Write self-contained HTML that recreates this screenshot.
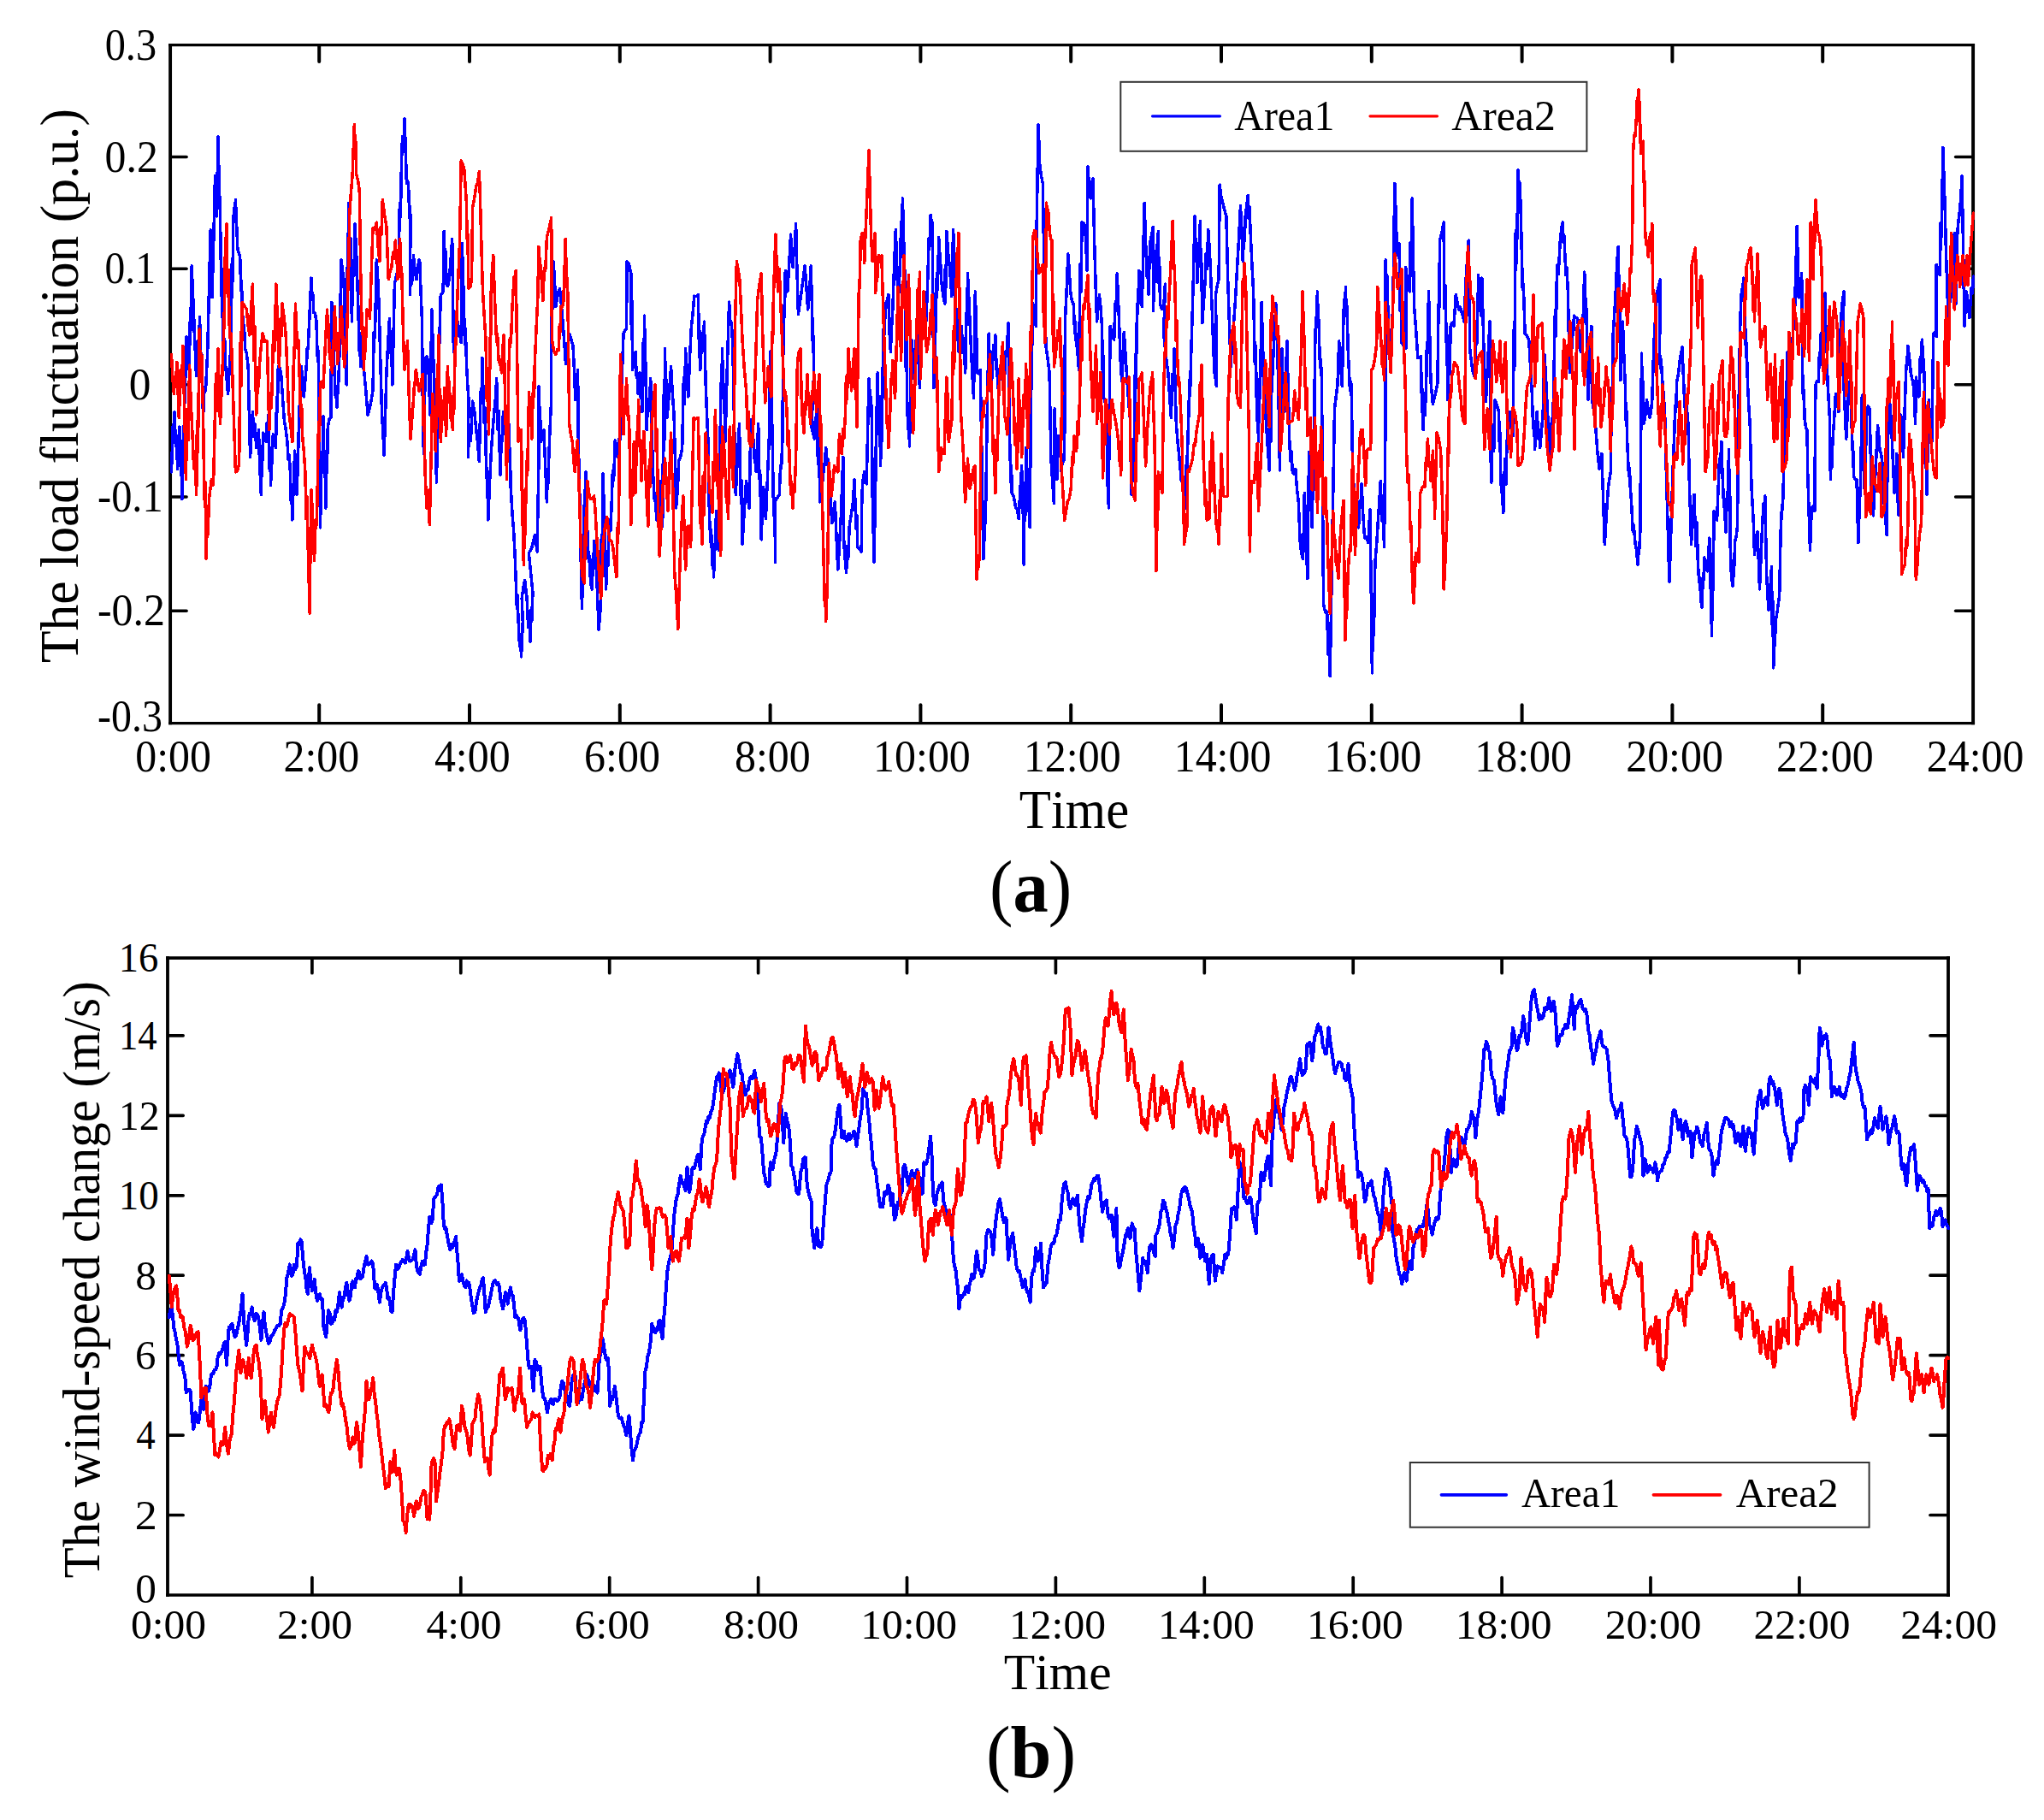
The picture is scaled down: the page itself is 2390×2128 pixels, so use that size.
<!DOCTYPE html>
<html lang="en"><head><meta charset="utf-8"><title>Load fluctuation and wind-speed change</title>
<style>
html,body{margin:0;padding:0;background:#fff;}
body{width:2390px;height:2128px;overflow:hidden;}
svg{display:block;}
text{font-family:"Liberation Serif", "Times New Roman", serif;fill:#000;font-kerning:none;}
</style></head><body>
<svg width="2390" height="2128" viewBox="0 0 2390 2128">
<rect x="0" y="0" width="2390" height="2128" fill="#fff"/>
<g stroke="#000"><line x1="197.15" y1="52.6" x2="2309.05" y2="52.6" stroke-width="3.2"/><line x1="197.15" y1="845.6" x2="2309.05" y2="845.6" stroke-width="3.2"/><line x1="199.1" y1="51" x2="199.1" y2="847.2" stroke-width="3.9"/><line x1="2307.1" y1="51" x2="2307.1" y2="847.2" stroke-width="3.9"/></g>
<g stroke="#000" stroke-width="4.0" stroke-linecap="round">
<line x1="373.2" y1="844.6" x2="373.2" y2="824.2"/><line x1="373.2" y1="53.6" x2="373.2" y2="72.1"/>
<line x1="549" y1="844.6" x2="549" y2="824.2"/><line x1="549" y1="53.6" x2="549" y2="72.1"/>
<line x1="724.8" y1="844.6" x2="724.8" y2="824.2"/><line x1="724.8" y1="53.6" x2="724.8" y2="72.1"/>
<line x1="900.6" y1="844.6" x2="900.6" y2="824.2"/><line x1="900.6" y1="53.6" x2="900.6" y2="72.1"/>
<line x1="1076.4" y1="844.6" x2="1076.4" y2="824.2"/><line x1="1076.4" y1="53.6" x2="1076.4" y2="72.1"/>
<line x1="1252.2" y1="844.6" x2="1252.2" y2="824.2"/><line x1="1252.2" y1="53.6" x2="1252.2" y2="72.1"/>
<line x1="1428" y1="844.6" x2="1428" y2="824.2"/><line x1="1428" y1="53.6" x2="1428" y2="72.1"/>
<line x1="1603.8" y1="844.6" x2="1603.8" y2="824.2"/><line x1="1603.8" y1="53.6" x2="1603.8" y2="72.1"/>
<line x1="1779.6" y1="844.6" x2="1779.6" y2="824.2"/><line x1="1779.6" y1="53.6" x2="1779.6" y2="72.1"/>
<line x1="1955.4" y1="844.6" x2="1955.4" y2="824.2"/><line x1="1955.4" y1="53.6" x2="1955.4" y2="72.1"/>
<line x1="2131.2" y1="844.6" x2="2131.2" y2="824.2"/><line x1="2131.2" y1="53.6" x2="2131.2" y2="72.1"/>
</g>
<g stroke="#000" stroke-width="3.5" stroke-linecap="round">
<line x1="200.1" y1="183.5" x2="218.1" y2="183.5"/><line x1="2306.1" y1="183.5" x2="2286.6" y2="183.5"/>
<line x1="200.1" y1="314.2" x2="218.1" y2="314.2"/><line x1="2306.1" y1="314.2" x2="2286.6" y2="314.2"/>
<line x1="200.1" y1="449.8" x2="218.1" y2="449.8"/><line x1="2306.1" y1="449.8" x2="2286.6" y2="449.8"/>
<line x1="200.1" y1="581" x2="218.1" y2="581"/><line x1="2306.1" y1="581" x2="2286.6" y2="581"/>
<line x1="200.1" y1="714.2" x2="218.1" y2="714.2"/><line x1="2306.1" y1="714.2" x2="2286.6" y2="714.2"/>
</g>
<clipPath id="ca"><rect x="197.4" y="52.6" width="2111.4" height="793"/></clipPath>
<g clip-path="url(#ca)">
<polyline points="200.5,551.8 202.3,497 203.3,517 204.1,481.5 205.4,521.9 206.4,509.7 207.6,548.3 208.8,526.6 210,499.1 210.6,541.6 211.4,515.6 212.8,583.4 214,528.3 214.7,531.9 215.3,495.6 216.6,429.4 217.4,440.9 218.1,393.6 219.5,417 220.9,432.3 221.6,377 222.5,402.9 224.1,311 225.5,342.3 226.9,376 227.8,408.4 228.5,405.3 229.4,439.3 230.9,398.7 232.1,412.3 233.6,370.8 234.7,426.8 235.8,413.9 237.5,488.5 239.1,452.6 240.5,456.2 242.7,411.2 244.4,340.6 246.2,268.8 247.1,305.2 248,347.9 249.8,280.3 251.5,205.6 252.1,233.7 252.6,220.8 253.3,253 255,159.9 256.2,210.8 257.5,253 258.9,346.2 259.7,314.9 260.3,376 261.7,413.3 262.7,396.3 263.8,428.8 265.2,444.7 266.6,460.4 268.4,427.6 270.1,404.2 271.3,305 272,329.3 272.6,263.6 273.7,243.7 274.5,251.7 275.4,233.7 276.6,261.4 277.9,291.7 279.3,295.5 280.7,300.5 281.8,339.5 282.5,328.2 283.1,355 284.4,383.3 285.4,380.6 286.7,407.7 288.4,413.7 290.2,428.8 291.4,486.3 292.6,534.2 294,506.8 295.4,481.5 297,510.7 298.2,495.8 299.7,523.7 301.1,515.9 302.5,502.6 303.9,555.4 304.7,546.7 305.3,578.2 306.6,521.5 307.3,537.8 307.8,506.1 309.6,510.9 311.3,516.6 312.2,494.3 312.9,505.3 313.7,485 315,548.2 315.8,523.2 316.5,567.6 317.9,540.2 319.3,507.9 320.9,518.9 322.5,523.7 323.6,464.4 324.4,481.2 325.3,428.8 327.1,429.6 328.8,439.3 330.6,466.3 332.4,492 334.1,501.3 335.9,516.6 337.2,537.3 338.2,531.8 339.4,551.8 340.3,588.2 341,574.8 341.8,608 343.2,567.2 344.7,527.2 345.4,551.1 346,546.2 347.1,578.2 348.5,533.5 349.9,481.5 351.1,458.1 352.4,428.8 353.8,443.9 355.2,463.9 356.9,444.5 358.7,421.7 359.3,406.2 360.1,408.1 361.5,379.6 362.8,349.8 364,325.1 365.2,350.7 366,344.6 366.8,365.5 368.4,366.4 370,376 371.1,416.2 371.9,409.6 372.8,446.3 374.5,616.8 376.1,528.2 377.1,552.3 378,486.8 379.1,543.6 379.9,538.5 380.9,594 381.7,543 382.4,552.5 383.3,499.1 385.1,489.9 386.8,488.5 387.9,353.2 389.5,394.6 391.1,435.8 392.3,464.2 393,452 393.9,476.2 394.5,455 395.3,459.7 396.7,421.7 397.9,359.5 399.1,304 400.6,317.4 402,326.8 403.6,388.8 405.1,449.9 406.6,273.5 407.4,336.4 407.9,237.2 408.9,312.4 409.9,278.1 411.4,376 412.8,306 413.9,322.3 415,261.8 416.8,300.4 418.5,347.9 420.4,415.8 421.4,389.9 422,428.8 423.8,428.6 425.5,432.3 427.8,456.8 430.1,485 433.1,473.4 436,456.9 437.2,388.1 438.4,394.7 440.3,304 441.7,324.9 443.1,355 444.9,424.6 446.6,485 447.9,505.5 449.1,532.5 450.5,488.9 451.9,435.8 453.6,404.2 455.4,372.5 456.5,412.3 457.5,404.1 458.9,449.9 460.1,390.3 461.4,332.1 463.6,321.1 465.9,316.3 467.4,237.5 468.4,254.1 469.4,193.3 470.5,159.9 471.5,177.3 473,138.8 474.2,171.8 475.4,214.4 476.4,211.4 477.5,214.4 478.9,255.3 479.6,241 480,263.6 479.3,344.4 480.5,319.6 481.6,331.3 483.5,298.7 485.2,317.1 487,326.8 488.4,313.8 489.8,304 490.7,304 492.1,341.9 493.5,376 494.5,490.9 495,473.1 495.3,530.7 496.5,470.3 497.7,418.2 499.1,416.6 500.5,421.7 501.8,450.5 503,485 503.9,424.5 504.8,362 506.2,402.8 507.6,446.3 508.4,517.1 509.2,479.7 510.4,564.1 511.6,509.7 512.8,446.3 514,391.7 515.3,344.4 516.7,343.2 518.1,340.9 519.2,270.6 519.9,295 520.7,291 522.3,333.9 523.7,334 525.1,326.8 526.9,306.4 528.7,279.4 530.4,411.2 532.3,386.5 533.6,396.8 535,376 537.1,387.1 539.2,400.7 540.3,284.7 541.5,324.1 542.7,369 543.5,402.5 544.3,384.2 545.5,425.3 546.8,450.6 548,467.4 547.3,534.2 548.9,496.3 550.4,515.3 552.6,469.2 554.7,481 556.8,502.6 558.5,517 560.3,539.5 562.1,457.5 563.1,463.9 563.8,418.2 566.1,494.3 567.3,477.1 568,516.6 568.7,558.4 569.5,547.7 570.8,608 572.6,563.6 574.4,527.2 576.1,503.1 577.9,481.5 579.3,466.2 580.7,442.8 581.9,501.9 583.1,480.2 584.9,555.3 586.4,511.4 587.4,515.3 588.4,481.5 590.3,507.9 591.3,503.1 591.9,516.6 593.3,505.3 594.7,492 595.5,529.1 596.2,524.5 597.2,569.4 599,600.4 600.7,622.1 602,646.3 603.2,678.3 604.4,711.8 605.1,695.6 606,724 607.5,755.1 608.5,744 609.5,768 611.3,727.5 610.2,699.4 612,686.4 613.7,678.3 614.6,692.5 615.3,689.2 616.5,706.4 617.6,733.5 618.6,717.9 620.1,750.4 621.3,710.3 622.1,724.6 622.9,692.4 618.3,646.7 621.8,640.6 625.3,625.6 626.7,634.2 628.1,644.9 629.9,541.2 629.9,451.6 630.7,485.7 631.4,476.6 632.4,516.6 634.1,513.1 635.9,502.6 637.6,542.8 639.4,586.9 640.3,553 641,564.9 641.8,534.2 643.2,498.3 644.7,467.4 644.7,397.1 645.4,355.3 646.1,361.1 647.1,305.7 648.5,327.8 649.9,358.5 652.2,343.7 654.5,337.4 656.2,354.6 658,376 659.8,400.6 661.5,425.3 663.6,404.2 665.7,390.1 667.9,397.2 670,404.2 671.4,431.6 672.8,467.4 674.2,446.6 675.6,432.3 676.3,516.6 678,586.9 679.2,654.1 680.5,711.7 681.5,665.1 682.6,622.1 683.6,573.8 684.3,597.3 685.1,551.8 686.8,622.1 688.2,653.9 689,650 689.6,667.8 690.9,682.5 692.1,688.9 692.9,654.3 693.6,672.8 694.6,632.6 696,652.5 697.4,664.3 698.8,702.8 700.2,736.3 701.5,718.1 702.7,706.4 703.3,625.5 704,666.5 705.1,553.6 706.9,618.8 708.6,688.9 710.1,645.3 710.9,661.1 711.4,636.2 712.8,607.3 713.8,620.4 715,594 716.4,550.3 717.6,562 719.2,514.9 720.6,522.1 722,534.2 723.5,513.6 724.5,519 725.5,502.6 727.2,442 729,390.1 730.8,386 732.5,384.8 733.2,305.7 735.5,309.1 737.8,319.8 738.3,385.4 738.8,351.1 739.6,432.3 741.4,420.7 743.1,411.2 744.3,441.3 745,435.7 745.9,460.4 747.1,443.2 748.3,435.8 749.2,465 749.9,453.7 750.8,481.5 752,400.8 752.8,431.6 753.6,369 754.5,450.5 755.2,424.7 756.1,502.6 757.7,467.1 759,480.2 760.7,442.8 762.1,501.5 763.5,551.8 765.3,585.2 766.5,582.1 767.7,608 769,576.9 770,591.6 771.2,562.3 772.8,602.9 773.8,585.9 774.7,615.1 775.9,462 776.7,526.6 777.5,407.7 778.6,466.1 779.3,443.9 780,488.5 782.3,462.2 784.6,428.8 786.4,461.5 788.1,485 789.4,536.3 790.7,594 791.5,565.3 792.3,577.4 793.5,539.5 795.6,534.2 797.7,523.7 799.4,441 800.5,472.2 801.6,407.7 802.8,439.5 803.7,434.3 804.8,463.9 806.5,418.9 808.3,383.1 810,367.7 811.8,346.2 814.1,346.6 816.4,344.4 817.6,417.6 818.3,387.1 818.8,432.3 821,389.2 822.3,406.6 823.4,376 825.1,446.3 826.5,483.5 828,516.6 829.4,601 830.9,633.5 831.6,619.9 832.2,639.7 833.4,664.6 834,658.4 834.6,674.8 835.5,636.6 836.3,642.8 837.5,597.5 838.9,624.9 840.3,643.2 842,516.6 843,447.4 843.7,466 844.5,407.7 845.6,462.5 846.5,449.5 848,516.6 850.3,429.9 852.6,353.2 854.1,379.6 855.3,377.2 856.8,404.2 858.5,492.3 860.3,578.2 862.4,534 864.5,495.6 865.9,579.1 866.8,561.1 868,636.2 870.3,596.8 872.6,562.3 874.4,581.1 876.1,594 877.9,490.3 879.6,508.2 881.4,516.6 882.4,540.1 883.2,529.1 884.2,551.8 885.5,524.4 886.7,495.6 887.7,560.1 888.7,550 890.2,630.9 891.4,596.3 892.6,569.4 894,588.3 895.4,606.3 897.5,557.1 899.7,502.6 900.7,411.2 902,460.3 903.2,516.6 904.6,602.4 905.6,582.8 906.7,657.2 906,586.9 908.6,582.6 911.3,578.2 912.6,544.6 913.6,547.1 914.8,516.6 915.8,411.2 916.7,357.5 917.4,370.5 918.3,316.3 919.5,327.6 920.8,340.9 922.7,309.3 924.6,274.1 925.7,299.1 926.4,292.9 927.1,312.8 927.8,292.1 928.8,298.7 930.6,261.8 932,318.4 933.4,367.3 935.5,352.5 937.6,337.4 939.4,323.8 941.1,311 942.9,335.6 944.7,362 946.5,341.4 948.2,311 949.9,376 950.4,407 950.9,392.8 951.7,435.8 948.9,499.1 950.6,506.4 952.4,513.1 953,492.3 953.7,500.4 955.2,463.9 956.4,542.6 957.4,503.8 958.7,586.9 960.8,571.7 962.9,551.8 964.3,540.2 965.7,523.7 967.4,544 968.4,537.1 969.3,551.8 971,582.9 972.8,611.5 974.5,598.3 976.3,586.9 978,627.8 979.8,666 981.5,638.1 983.3,604.5 984.5,572 985.8,534.2 986.8,636.2 988.2,653.9 989.6,669.5 990.7,638.7 991.7,653.2 993.2,615.1 995.3,601.4 997.4,586.9 999.1,560.6 1000.9,618.3 1001.9,602.8 1002.7,639.7 1005,642 1007.2,644.9 1007.9,576.4 1009.3,559.6 1010.7,551.8 1012,559 1013.2,565.9 1014.6,503.6 1016,442.8 1017.4,465.8 1018.3,464 1019.2,481.5 1020.7,622.3 1021.5,576.5 1022,657.2 1023.7,569.4 1024.8,476.2 1025.5,507.4 1026.2,435.8 1027.2,498.4 1028.1,463.2 1029.7,544.8 1030.3,475.4 1031.1,516.3 1032.5,411.2 1033.4,379.1 1034.2,390.6 1035.3,355 1037.1,352.1 1038.9,344.4 1039.9,391.3 1040.6,373.4 1041.3,411.2 1042.5,384.3 1043.8,362 1045.5,312.7 1047.3,268.8 1048.7,308.6 1050.1,355 1051.5,330.5 1052.9,298.7 1053.6,259.2 1054.3,282.4 1055.4,231.9 1056.6,277.5 1057.8,316.3 1059.3,433.3 1060.1,397.2 1060.7,467.4 1061.7,501.9 1062.5,486.4 1063.5,521.9 1064.7,456.4 1065.9,397.1 1067.7,418.4 1069.4,446.3 1070.8,408.8 1072.2,372.5 1073.8,415.2 1075.4,453.4 1076.8,412.3 1078.2,376 1079.6,383.3 1081,390.1 1081.9,359.8 1082.9,375.4 1084.6,332.1 1086.2,278.7 1087.2,288.1 1088.1,251.3 1089,257.9 1090,260.1 1091.8,453.4 1093,412.8 1094.2,376 1095.4,319.2 1096.4,338.6 1097.7,277.6 1098.4,299 1099.2,296.1 1100.5,326.8 1102.7,344.8 1104.8,355 1105.2,314.1 1105.8,336.5 1106.9,270.6 1108.7,296.3 1110.4,312.8 1111.6,327.9 1112.8,346.2 1114.6,268.8 1116,308.1 1117.4,355 1119.2,379.1 1120.9,411.2 1122.2,393.4 1123.2,398.3 1124.4,381.3 1125.6,412.5 1126.8,396 1128.7,435.8 1129.8,366.6 1130.6,379.1 1131.5,319.8 1133.2,356.8 1135,397.1 1136.8,435.5 1138.5,465.7 1140.3,340.9 1141.5,383.8 1142.7,435.8 1144.5,437 1146.2,432.3 1148,534.2 1149.8,653.7 1151.2,623.8 1152.6,597.5 1154.3,481.5 1156.1,390.1 1157.5,430 1158.5,411.2 1159.6,446.3 1161.7,403.4 1162.9,418.7 1163.8,391.9 1165.3,433.9 1166,431.1 1166.6,453.4 1168.3,442.8 1170.1,439.3 1172.2,444.4 1174.4,446.3 1175.9,411.1 1177.2,416.7 1178.9,377.8 1180.7,516.6 1181.9,564.4 1182.6,544.6 1183.1,576.4 1185.4,580.6 1187.7,594 1189.5,595.8 1191.2,606.3 1193,571 1194.7,544.8 1195.3,592.7 1196,584.8 1197.2,660.1 1198.3,564.3 1199,602.3 1199.7,523.7 1202,573.7 1204.2,616.8 1205.3,481.5 1206.5,417.1 1207.8,355 1209.5,372.8 1211.3,381.3 1212.3,253 1214.1,145.8 1215.8,193.3 1217.5,205.3 1219.3,214.4 1220.8,305.7 1221.3,358 1221.9,324.6 1222.9,404.2 1225,418.5 1227.1,435.8 1228.8,534.2 1230.6,562.1 1232.4,588.7 1233.1,478 1233.7,514.2 1234.5,501.5 1235.9,560.6 1237.6,509.6 1238.5,533.7 1239.5,520.1 1241.1,551.8 1242.7,532 1243.7,539.5 1244.7,523.7 1245.4,376 1247.2,338.7 1248.9,297 1250.3,316.5 1251.7,340.9 1253.5,352.7 1255.2,355 1256.7,389.4 1257.4,376.3 1258,397.1 1259.8,410.2 1261.5,432.3 1263.2,308.4 1264.2,341.1 1265,260.1 1266.8,260.6 1268.6,263.6 1269.8,285.4 1271,316.3 1272.1,195 1273.2,214.8 1274.1,211.8 1275.2,231.9 1276.6,219.5 1278,209.1 1279.8,288.2 1281.2,335.9 1282.6,376 1283.7,358.4 1284.5,360.5 1285.4,344.4 1287,359.6 1288.6,383.1 1289.2,432.5 1289.7,410.4 1290.4,463.9 1292.2,470.8 1293.9,481.5 1295,567.8 1295.7,534.3 1296.3,594 1298.1,381.3 1300.4,392.8 1302.7,397.1 1303.9,354.7 1304.9,363.9 1306.2,319.8 1308,362.1 1309.7,407.7 1310.8,438.1 1311.5,424.7 1312.1,446.3 1313.2,413.3 1314.3,388.3 1316,415 1317.8,442.8 1319.5,467.8 1321.3,488.5 1323,578.2 1324.6,549.4 1326.2,516.6 1327.6,414.5 1328.4,453.2 1329,390.1 1329.7,355.1 1330.5,366.8 1331.8,316.3 1332.6,335.3 1333.6,328.9 1335.3,358.5 1336.8,293.3 1338.2,237.2 1339.2,271.2 1340.3,302.2 1341.2,324.2 1341.9,317.7 1343.1,344.4 1344.1,300 1344.7,312.6 1345.2,281.1 1346.8,273.5 1348.3,265.3 1348.3,363.7 1350.2,321.2 1351.2,329.6 1351.9,305.7 1352.4,286.7 1353.1,299.1 1354.3,270.6 1355.4,340.5 1356,312 1356.4,355 1358.6,361.4 1360.7,358.5 1362.4,332.1 1360.7,390.1 1363.3,417.2 1365.9,435.8 1367.7,465.2 1369.4,488.5 1370.8,437.2 1371.8,455.3 1373,407.7 1374.2,455.3 1375.4,497.3 1377.2,518.2 1378.9,534.2 1381.3,562.1 1382.6,553.4 1383.5,569.4 1384.8,580.7 1386,594 1387.5,533 1388.3,549.3 1388.8,516.6 1390,481.5 1390.7,444.8 1391.5,463.1 1392.8,411.2 1394,373.1 1395.3,326.8 1397,253 1398,301 1398.7,279.9 1399.8,330.4 1400.6,295.6 1401.7,311.1 1403.4,258.3 1404,310.8 1404.6,296 1405.8,377.8 1407.5,352.6 1409.3,326.8 1410.1,296.5 1411.1,314.7 1412.8,268.8 1414,287.5 1415.3,312.8 1417,355.5 1418.8,407.7 1420.5,441.5 1421.5,429.8 1422.3,451.6 1421.6,344.4 1423.3,333.4 1425.1,326.8 1426.2,216.1 1427.8,229.7 1429.4,235.4 1431.7,245.2 1433.9,253 1435.7,326.8 1437.5,381.7 1439.2,428.8 1440.7,392.7 1441.7,404 1442.7,376 1444.5,350.9 1446.2,319.8 1448.3,283.4 1450.5,240.7 1451.9,270.8 1453.3,305.7 1454.6,266.5 1455.4,281.6 1456.1,253 1457.7,240.8 1459.2,228.4 1460.2,255.5 1461,241.9 1462.1,270.6 1463.8,306.6 1465.6,340.9 1467.3,425.7 1468.3,404.1 1469.1,456.9 1469.8,491.3 1470.5,475.7 1471.5,516.6 1472.4,443 1473.4,465.4 1475.1,353.2 1476.5,402.2 1477.9,446.3 1479.3,473.1 1480.7,499.1 1482.5,525.1 1484.2,550 1485.2,489 1485.9,516.1 1486.7,460.4 1489.3,406.8 1491.9,355 1493.3,398.7 1494.7,446.3 1496.5,550 1497.4,460.2 1498.1,492.6 1499,407.7 1500.5,461.4 1501.3,454.6 1501.8,481.5 1503.3,445.1 1504.9,398.9 1506.3,458.4 1507.8,516.6 1509,539.5 1510,527.5 1511.3,551.8 1513,554 1514.8,548.3 1516.5,571.6 1518.3,586.9 1520.1,632.6 1521.8,647.4 1523.6,653.7 1525.3,576.4 1527,625.3 1528.8,676.6 1530.6,528.9 1532.3,590.3 1533.3,576.3 1534.1,616.8 1535.5,549 1536.9,481.5 1537.6,407.7 1538.6,371.7 1539.4,376.9 1540.4,340.9 1541.3,376.6 1542,373.4 1542.9,411.2 1543.6,429.8 1544.3,419.9 1545.4,442.8 1546.5,572.5 1547.5,706.4 1549.6,715.8 1551.7,715.2 1553,765 1554,744 1555.2,790.8 1556.6,705.8 1558,622.1 1559.2,549.9 1560.5,478 1562.2,463.9 1564,449.9 1565.7,398.9 1567.5,427.4 1569.3,451.6 1571,369 1571.6,350.3 1572.3,362 1573.5,335.6 1574.1,366.6 1574.9,357.4 1576.3,411.2 1578.5,456.4 1579.7,446.4 1580.5,470.9 1581.6,551.8 1583.3,570.9 1585.1,583.4 1586.5,607.9 1587.5,595.9 1588.6,616.8 1590,586.1 1590.9,593.8 1592.1,565.9 1593.8,602.2 1595.6,629.1 1597.7,627.8 1599.8,634.4 1600.9,614.2 1602,595.7 1603.2,687.5 1604.4,786.9 1605.4,717.6 1606.4,742.7 1607.9,657.2 1609.7,636.2 1611.4,608 1612.8,586.9 1614.3,562.3 1615.7,609 1616.9,589.3 1618.5,639.7 1620.2,474.5 1620.2,304 1621.1,338.8 1621.8,322 1622.7,355 1624.4,409.6 1625.4,403.6 1626.2,435.8 1627.6,368.5 1628.4,378.4 1629,340.9 1630.8,214.4 1631.6,269 1632.3,241.7 1633.2,298.7 1634.6,296.6 1636,284.7 1637.1,363.1 1637.9,325.2 1638.9,400.7 1641.3,404.6 1643.8,407.7 1643.8,312.8 1645.9,331.9 1647.2,327.7 1648.3,340.9 1648.9,284.1 1649.7,322.9 1651.2,231.9 1652.4,299.5 1653.6,358.5 1655.7,386 1657.8,418.2 1659.6,417.8 1661.4,416.5 1662.7,482 1663.5,455.3 1664.2,502.6 1665.2,470.6 1666.2,485.5 1667.7,446.3 1668.4,400.3 1669.2,411.1 1670.5,340.9 1671.8,394.6 1673,446.3 1674.2,459.8 1675.4,472.7 1678.2,461.5 1681,448.1 1681.9,356.3 1682.6,377.9 1683.5,281.1 1685.8,272.6 1688.1,260.1 1688.8,360.2 1690,333.9 1690.8,399.8 1691.6,378.8 1692.8,467.4 1693.9,416.9 1694.9,437.4 1696.3,379.6 1698,377.3 1699.8,381.3 1701,364.8 1702.3,344.4 1704,353.5 1705.8,362 1707.5,359.3 1709.3,365.5 1710.5,369 1711.8,376 1713.2,347.6 1714.6,316.3 1715.8,302.6 1717.1,281.1 1718.8,411.2 1720.2,419.9 1721.6,432.3 1723.3,437.5 1725.1,442.8 1726,391 1727,401.3 1728.7,321.6 1729.3,344.2 1730.1,334.1 1731.5,369 1732.9,325.1 1734.3,382.8 1735.7,439.3 1737.5,469.2 1739.8,419.9 1742,376 1742.7,516.6 1743.8,564.1 1745.5,496.4 1746.7,527.6 1748,467.4 1750.3,473.7 1752.6,481.5 1753.1,516.6 1753.8,505 1755,565.9 1756.4,578.4 1757.8,599.2 1759.7,536.8 1760.9,566.1 1762.1,516.6 1763.5,493.7 1764.5,500.9 1765.6,481.5 1766.7,495.5 1767.7,493.1 1769.1,509.6 1770.2,385 1770.9,428.5 1771.5,340.9 1772.3,269.3 1773.3,308 1775.1,198.5 1776,217.5 1776.8,212.8 1777.9,235.4 1779.6,305.7 1780.3,338.9 1781.3,331.8 1783.1,390.1 1785.4,392.6 1787.7,397.1 1789.5,428.4 1791.2,456.9 1792.7,500.9 1793.7,492.1 1794.7,525.4 1795.5,498 1796.2,513.1 1797.2,481.5 1798.9,512.9 1799.9,502.5 1800.7,523.7 1802.5,503.7 1804.2,481.5 1806,414.7 1807.8,447.2 1809.5,481.5 1811.2,512.6 1813,541.2 1814.4,489.2 1815.4,506.3 1816.5,460.4 1818.4,362.3 1819.4,393 1820.1,333.9 1821,309.6 1822.2,320.3 1824.3,281.1 1825.7,267.4 1827.1,260.1 1828.1,283.2 1828.9,275 1829.9,298.7 1830.9,321.5 1831.9,312.6 1833.4,340.9 1834.3,390 1835,383.1 1835.9,435.8 1837.6,411.2 1838.8,382.7 1839.6,391.7 1840.4,369 1842.6,371.2 1844.7,372.5 1846.5,394.1 1848.2,411.2 1849.6,388.9 1851,376 1852.7,318 1853.8,354.2 1854.5,349 1855.2,376 1857,467.4 1858.9,420.8 1860.8,381.3 1861.5,467.4 1863.6,480.4 1865.7,499.1 1867.8,527.2 1870,548.3 1871.4,537.9 1872.8,530.7 1874.5,580 1876.3,636.2 1878.4,601.6 1880.5,569.4 1881.9,560 1883.3,551.8 1884.4,453.7 1885.2,473.9 1886.1,391.9 1887.8,365.9 1889.6,333.9 1890.8,306.1 1892.1,288.2 1893,332.8 1893.9,369 1894.9,444.6 1896.2,409.1 1897.4,376 1898.8,415 1900.2,446.3 1901.4,497.5 1902.1,481.2 1902.7,516.6 1904.5,556.3 1905.5,547.3 1906.2,569.4 1907.4,584.2 1908.6,608 1909.3,621.7 1910.3,614.2 1912.1,636.2 1913.5,643.2 1915,660.1 1915.7,644.1 1916.5,647.3 1917.8,622.1 1919.5,413 1920.3,456.6 1921,446.2 1922,495.6 1923.8,485.6 1925.5,467.4 1927.2,479.5 1929,488.5 1930.4,481 1931.8,467.4 1933,428 1934.3,393.6 1936,364.6 1937.8,340.9 1939.5,334.5 1941.3,326.8 1940.6,411.2 1941.4,430.1 1942.3,420 1943.8,446.3 1945.2,462 1946.6,481.5 1948.3,551.8 1950.1,614.4 1951.9,680.1 1953.1,647.3 1954.3,604.5 1956,550.9 1957.8,506.1 1958.8,473.9 1959.6,481.9 1960.7,446.3 1962.5,437.2 1964.2,421.7 1965.6,413.2 1967,405.9 1968.2,436.2 1969.4,463.9 1970.4,479.3 1971.7,471.3 1974,495.6 1975.4,569.4 1976.5,599.5 1977.5,636.2 1979.2,607.1 1981,578.2 1982.9,638.6 1984.1,610.8 1985.3,657.2 1986.7,680.5 1987.5,675.4 1988.1,688.9 1989,702.8 1990,710 1991.3,673.6 1992,677.8 1992.8,652 1994.5,658.3 1996.3,667.8 1997.5,650 1998.8,629.1 2000.2,685.9 2001.6,743.4 2002.5,647.7 2003.2,689.6 2004.1,597.5 2005.8,605 2007.6,608 2009.3,565.9 2010.5,536.3 2011.5,546.8 2012.8,516.6 2014,554.3 2015.3,583.4 2016.7,599.2 2018.1,622.1 2018.9,583.2 2019.9,587.9 2021.6,525.4 2022.1,597.4 2022.6,559.9 2023.4,657.2 2024.7,674.3 2025.9,685.4 2026.6,655.3 2027.4,673.8 2028.7,632.6 2030.1,627.1 2031.5,615.1 2032.9,481.5 2034,420.4 2035,369 2036.5,338.3 2037.5,350.4 2038.5,325.1 2039.8,358 2041,390.1 2041.5,417.7 2042.2,401 2043.4,446.3 2044.8,475 2046.2,495.6 2048,569.4 2049.2,590.7 2050.5,615.1 2051.5,648.5 2053.1,627.9 2054.1,636.8 2055,622.1 2056.2,652.3 2057.5,688.9 2058.9,655.6 2060.3,622.1 2062,588.9 2063,603.2 2063.8,579.9 2065.6,671.3 2066.8,694.4 2068,713.5 2069.8,689.5 2071.5,662.5 2072.1,730.2 2072.7,695.9 2073.7,781 2074.7,746.4 2075.4,755.1 2076.1,727.5 2078.4,713.1 2080.7,695.9 2082.1,622.1 2083.6,590.8 2084.4,595.8 2084.9,579.9 2086.4,519.8 2087.2,531.1 2087.7,499.1 2088.6,446.3 2089.3,466.6 2090.2,411.2 2092.8,414.3 2095.4,407.7 2097.2,379.5 2099,355 2099.7,300.8 2100.3,319 2101.1,264.3 2101.6,304.6 2102.2,290.7 2103.2,347.9 2104.1,332.1 2105.1,340.6 2106.7,319.8 2107.8,442.8 2108.4,466.7 2109.1,456.2 2110.2,490.3 2111.6,499.9 2113,502.6 2113.7,551.8 2115.1,598.7 2116.5,643.2 2117.4,617 2118.3,594 2120.1,592.2 2121.8,597.5 2122.9,449.9 2124.7,445.7 2126.4,446.3 2127.1,417.3 2127.8,427.6 2128.8,391.9 2130.6,387.5 2132.4,390.1 2134.1,342.7 2134.9,392.4 2135.7,381.8 2136.9,446.3 2138.2,467.8 2139.4,488.5 2140.4,560.6 2141.3,532 2142,546 2142.9,516.6 2144.7,489 2146.4,460.4 2148.2,469.9 2149.9,481.5 2150.9,419.1 2151.6,425.9 2152.4,376 2154.2,354 2155.9,340.9 2155.2,432.3 2156.9,471.5 2158.7,513.1 2160.4,480.6 2162.2,446.3 2163.3,469.9 2164.1,467.3 2165,488.5 2165.8,525.5 2166.5,516.5 2167.5,557.1 2169.2,560.5 2171,560.6 2171.9,596.1 2172.8,634.4 2174.2,594.8 2175.6,560.6 2177.3,462.2 2178.6,515.1 2179.8,571.1 2180.4,522.4 2181.2,550.7 2182.6,478 2184.3,475.1 2186.1,478 2187.5,541.2 2188.4,577.6 2189.2,559.2 2190.4,602.8 2192.1,569.4 2193.8,534.5 2195.6,497.3 2196.8,509.8 2198.1,527.2 2199.5,529.8 2200.9,541.2 2202.7,583.4 2204.4,602.7 2206.2,625.6 2207.2,516.6 2208.4,498.3 2209.7,470.9 2210.9,486.3 2212.1,509.6 2213.6,544.3 2215,576.4 2215.8,552.9 2216.5,562.2 2217.8,530.7 2219,587.7 2219.7,568.5 2220.2,602.8 2221.4,542.7 2222.7,485 2224.1,505.9 2225.5,534.2 2226.9,486.9 2228.3,444.6 2228.9,427 2229.6,431.3 2230.8,404.2 2232.6,418.8 2234.3,435.8 2236.1,444.4 2237.8,453.4 2239.6,495.6 2240.3,441.1 2242.1,453.6 2243.8,463.9 2245.3,417.7 2246.3,434.8 2247.3,397.1 2248.7,418.2 2250.1,439.3 2251.5,513.4 2252.9,578.2 2254.2,522 2255.4,467.4 2256.2,493.3 2257.2,478.3 2258.9,516.6 2260.7,390.1 2262.4,388.1 2264.2,393.6 2264.2,309.3 2266.3,316 2268.4,321.6 2269.2,260.3 2270.1,276.6 2271.9,172.2 2272.9,204.2 2274,235.4 2275.2,285.2 2276.5,326.8 2277.5,356.5 2278.2,353.9 2278.9,376 2279.9,326.7 2280.7,352.3 2281.7,302.2 2283.5,284.2 2285.3,272.4 2287,355 2287.7,306.5 2288.2,315.2 2288.8,270.6 2290.2,256.9 2291.6,246 2292.8,230.6 2294,205.6 2294.9,251.3 2295.8,305.7 2296.9,381.3 2298.1,360.7 2299.3,340.9 2301.1,353.1 2302.8,371.8 2305.2,336.5 2306.5,342.9 2307.4,323" fill="none" stroke="#0000ff" stroke-width="3.5" stroke-linejoin="round" stroke-linecap="round" shape-rendering="crispEdges"/>
<polyline points="200.5,414.7 201.9,442 203.4,460.4 204.2,441.1 205.2,452.4 206.9,423.5 208.1,457.7 209.3,488.5 211.2,432.1 212.5,451.8 213.9,404.2 215.7,479 217.4,560.6 218.8,478.6 220,514.9 221.6,427 223.3,472.8 225.1,509.6 226.7,547.9 228,539.3 229.7,578.2 230.4,492.3 231.4,528.8 233.2,384.8 234.6,446.3 235.8,414.8 237.5,481.5 238.9,583.8 239.9,563.9 241,653.7 242.1,618.9 243.1,624.7 244.5,583.4 247.4,560.4 248.9,567.6 249.8,555.3 252.5,437.2 253.9,480.7 255,407.7 256.2,455.7 257.5,495.6 259.8,438.7 262.1,376 263.6,278.1 264.4,317.8 264.9,261.8 266.3,346.1 267.2,315.4 268,376 269.1,395.8 269.9,389.5 270.8,407.7 273.1,479.8 275.4,551.8 277.5,550.7 279.6,543 281.4,388.7 282.4,450.9 283.1,353.2 285.8,357.2 288.4,362 290.1,381.2 291.9,391.9 293.6,361.9 295.4,332.1 296.7,421.6 298,381.3 299.7,485 301.5,444.5 302.5,451.6 303.2,428.8 305.1,407.5 307,390.1 309.6,399.1 312.3,398.9 313.6,450.8 314.8,502.6 316.3,464.2 317.3,477 318.3,446.3 319.6,387.5 320.8,410.8 322.9,332.1 324.6,381.7 326.4,428.8 328.1,372.5 329.1,392.6 329.9,355 332,369.5 334.1,390.1 335.9,431.4 337.6,481.5 339.7,496.8 341.8,516.6 343.6,406.2 344.6,418.1 345.4,355 347.6,406.5 348.9,397.8 349.9,428.8 351.7,487 352.7,473.1 353.4,507.9 355.2,526.1 357,553.6 357.9,606.4 358.9,580.9 360.5,653.7 362.2,717 363.2,616.4 363.7,623.3 364,572.9 365.8,609.4 367.5,655.5 369.2,607.2 370.2,613.7 371,583.4 372.5,493.6 373.5,515.7 374.5,448.1 376.2,446.2 378,453.4 380.3,404.2 382.6,362 383.4,390.5 384.1,378.8 385.1,411.2 386.9,425.9 388.6,435.8 389.5,398.5 390.3,402.3 391.4,358.5 392.9,408.4 393.8,389.9 394.6,425.3 396.9,394.5 399.1,358.5 400.9,395.7 402.7,428.8 403.7,398.1 404.7,412.3 406.2,372.5 406.8,316.6 407.4,338.6 408.6,253 410.4,225.6 412.1,205.6 413.2,174.6 414.3,145.8 414.9,178.5 415.6,158.4 416.7,203.8 418.4,210.2 420.2,221.4 421.1,276.8 422,333.9 423.4,390.8 424.4,382.4 425.5,432.3 426.2,404.4 427.2,410.8 429,362 430.8,363.2 432.5,372.5 434.2,319.9 436,267.1 438.1,268.4 440.3,260.1 442.1,287.8 443.8,305.7 445,265.7 446,274.3 447.3,233.7 449.6,250.7 451.9,265.3 453.1,298.1 454.3,326.8 456.1,317.4 457.8,312.8 459.6,295.5 460.9,296.8 462.4,281.1 463.3,304.9 464,301.4 464.9,326.8 466.3,300.5 467.7,279.4 468.6,323.9 469.6,312.9 471.2,376 471.9,410.7 472.4,400.1 473,432.3 474.5,411.6 475.5,415.2 476.5,398.9 478.2,460.6 480,513.1 481.8,489.6 483.5,467.4 484.6,447.3 485.4,449.3 486.3,432.3 488.1,443.8 490,456.9 492.1,447.5 494.2,437.6 494.9,497.1 495.6,463.2 497,551.8 499,594.2 500.5,573.6 502.3,613.3 504.1,534.7 505.8,460.4 507.6,492.5 509.3,527.2 510.8,443.8 511.8,453.6 512.8,391.9 514,486.9 514.7,455.1 515.3,516.6 516.9,479.7 518.2,490.5 519.9,453.4 521.6,509.6 523.4,428.8 524.4,460.3 525.3,446.6 526.9,488.5 528.1,491.3 529.4,502.6 530.1,462.1 530.7,483.6 531.5,439.3 532.6,395.5 533.3,402.3 533.9,372.5 535.7,327.5 537.5,284.7 539.2,188 541,192 542.7,196.8 544.1,216.9 545.5,239 546.1,279.9 546.8,273.4 548,337.4 549.8,335.6 551.5,326.8 552.6,242.5 554.7,231.6 556.8,217.9 558.5,213.7 560.3,200.3 561.2,223.6 562.1,256.5 563.3,301.5 564.5,340.9 566.2,369 568,397.1 569.3,468.9 570.2,436.1 571.5,507.9 572.6,395.5 573.4,430.4 574.4,326.8 575.6,315.8 576.8,298.7 578.2,340.7 579.6,376 580.6,399.7 581.6,390.8 583.1,421.7 584.9,426.3 586.7,435.8 587.8,403.1 588.4,417.8 589.1,391.9 590.9,479.4 592.6,560.6 593.3,480.2 593.9,525 594.7,435.8 596.2,395.9 597.4,400.6 599,358.5 601.2,323.4 602.3,338.4 603.2,316.3 604.6,412.7 606,516.6 607.8,507.6 609.5,502.6 610.7,613.9 611.5,573.1 612.3,660.8 613.3,619.3 614,624.9 614.8,586.9 616.1,538.3 616.7,555.2 617.2,527.2 618.6,458.6 619.8,494.3 620.7,479.7 621.8,513.1 623.6,447.5 624.6,464 625.3,425.3 627,385.6 628.8,347.9 629.9,288.2 631.1,305.5 632.4,312.8 633.6,332.8 634.8,351.4 636.4,313.1 637.7,316.7 639.4,277.6 642,267.2 644.7,254.8 645.4,397.1 647.6,409.7 649.9,414.7 651.6,408.9 653.4,409.4 654.3,379.2 655,387.8 655.9,358.5 657.3,358.9 658.7,355 660,319.3 661.2,279.4 662.7,336.1 663.5,325 664,355 665.7,495.6 667.5,508.6 669.3,516.6 670.7,536.8 672.1,551.8 673.7,530.6 675.2,514.9 676.6,555.2 678,597.5 679.2,639.2 680.5,671.3 681.9,677.9 683.3,681.8 684.6,605.7 685.5,637.7 686.8,562.3 688.6,576.7 690.4,583.4 692.5,583.2 694.6,579.9 696,596.2 697.4,622.1 700,663 702.7,699.4 703.9,671.9 705.1,636.2 707.4,616.4 709.7,604.5 711.5,621.2 713.2,632.6 715,633.1 716.7,639.7 718.8,658.1 720.9,674.8 722.2,616.5 723,623.9 723.7,586.9 725.5,414.7 727.2,460.6 729,507.9 730.4,466.7 731.4,479 732.5,442.8 734.4,490.2 735.4,486 736,509.6 737.8,613.3 739.1,549.1 740.1,578.9 741.3,516.6 742.2,549 743.1,576.4 744.6,505.6 745.6,521.6 746.6,467.4 747.9,518.7 748.9,514.1 750.1,562.3 751.4,524.5 752.2,530 752.9,504.3 755.3,562.5 757.8,615.1 759.4,537.7 760.4,569 761.4,507.9 763.6,475.2 765.9,449.9 767.1,527.7 768,501.9 769.4,586.9 769.8,615.6 770.3,601.7 771.2,650.2 773,615.5 774.7,583.4 775.6,556.6 776.4,565.2 777.5,536 779.2,564.8 781,597.5 782.8,551.6 784.6,506.1 785.8,559.6 786.5,554.6 787,583.4 788.8,671.3 790,685.4 791.4,708.4 792.8,735.3 794,695.7 795.3,650.2 797,614 798.8,579.9 800.2,618.9 801.6,666 802.9,639.5 804.1,615.1 805.9,627.7 807.6,639.7 809.4,567.1 811.1,488.5 813.8,489.8 816.4,488.5 818.1,586.9 818.9,612.3 819.7,603.1 820.9,636.2 822.1,556.8 823.3,601.9 825.1,506.1 826.9,540.9 827.9,533 828.7,555.3 830,576.5 831.2,573.7 832.9,599.2 833.8,540.8 834.8,562.4 836.4,479.7 838.4,567.7 839.5,531.8 840.3,586.9 841.3,632.8 842,611.6 842.7,649.5 844.5,499.1 845.3,521.9 846.3,515.8 848,551.8 849.5,587.6 850.5,578.9 851.5,606.3 853.3,499.1 855.3,546.6 856.5,538.5 857.5,569.4 858.5,474 859.6,376 861.4,305.7 863.1,315.3 864.9,326.8 866.5,360.4 868,397.1 870.3,431.3 872.6,456.9 874.1,501.9 875.1,481.4 876.1,516.6 877.9,521.7 879.6,521.9 881.4,482.5 883.1,435.8 884.4,396.1 885.6,351.4 887.9,333.5 890.2,319.8 891.9,397.1 893.3,435.7 894.7,470.9 895.9,448.7 896.9,452.8 898.3,428.8 900,444.9 901.8,463.9 903,387.4 903.7,398.2 904.2,355 905.6,310.8 907,274.1 907.8,310.2 908.5,299.8 909.5,340.9 911.3,314.5 912.5,349.1 913.7,376 915.1,412.3 916.5,449.9 917.5,468.1 918.5,458.4 920.1,481.5 921.1,521 922.1,503.8 923.6,551.8 924.7,577.9 925.7,563.7 927.1,594 928,569.1 929,575 930.6,537.7 932.4,421.7 934.1,412.2 935.9,407.7 937.6,481.5 938.9,493 940.1,506.1 941.3,470.5 942.4,478.7 944,437.6 945.4,474 946.4,465.4 947.5,495.6 949.5,457.4 950.6,461 951.7,435.8 953.1,469 953.9,460.9 954.5,481.5 956.2,455.9 958,437.6 959.2,511.2 959.9,495.8 960.5,541.2 961.7,595.1 962.9,646.7 964.4,708.5 965.2,695.3 965.7,726.8 967.5,681.8 969.3,541.2 970.5,565.5 971.3,560 972.1,579.9 973.9,563.3 975.6,544.8 977.7,549.2 979.8,551.8 980.8,513.9 981.3,529.6 981.6,507.9 983,522.7 984.4,530.7 985.8,501.8 987,512 988.6,481.5 989.4,440.4 990.4,466.8 992.1,407.7 993.9,446.9 994.9,434.2 995.6,456.9 997.4,428.1 999.1,407.7 1000.5,466.3 1001.3,462.3 1002,499.1 1003.7,376 1004.5,327.6 1005.2,336.6 1006.2,281.1 1008,273.2 1009.7,272.4 1010.7,307.5 1012,272.7 1013.2,246 1014.6,212.3 1016,175.7 1017.8,246 1019,288.6 1019.7,281.6 1020.2,305.7 1021.3,286.5 1022.1,289.3 1023,272.4 1023.7,342.7 1024.5,324.5 1025.5,329.1 1027.3,298.7 1029,302.9 1030.8,298.7 1032,337.6 1033.2,376 1034.6,422 1036,460.4 1037.1,495.4 1037.9,490.2 1038.9,523.7 1039.5,497.9 1040.1,504.3 1041.3,463.9 1042,443 1042.7,449.8 1043.8,421.7 1045.2,447.3 1046.6,465.7 1048.3,402.8 1050.1,335.6 1051.9,396.5 1052.9,388.5 1053.6,421.7 1055.3,329.9 1056.3,359.5 1057.1,298.7 1058,351.8 1058.8,338.5 1059.9,397.1 1060.8,353.8 1061.5,366.4 1062.4,321.6 1064.2,390.6 1065.9,453.4 1067.7,506.1 1069.5,458.4 1071.2,411.2 1073.2,338 1074.3,371.1 1075.4,318 1076.5,442.8 1078.1,369.6 1079,396.5 1080,340.9 1081.8,371.4 1083.5,411.2 1085.2,401.2 1087,390.1 1087.8,366.3 1088.6,376.6 1090,344.4 1091.4,391.4 1092.8,435.8 1094,429.4 1095.3,418.2 1096.5,484.8 1097.7,551.8 1099,530.4 1099.8,538.9 1100.5,523.7 1102.3,530.6 1104.1,530.7 1105.5,481.3 1106.9,441.1 1107.5,478.8 1108.1,460.4 1109.3,516.6 1111,504.7 1112.8,492 1114.7,387.3 1115.7,430.7 1116.4,369 1117.6,340.5 1118.8,312.8 1119.4,290 1120,302.2 1120.9,272.4 1122.3,376 1123.4,481.5 1124.8,502.1 1126.2,527.2 1127.5,557.7 1128.7,586.9 1129.7,555.3 1130.5,569.1 1131.5,536 1132.5,557.4 1133.2,554.6 1133.9,571.1 1135.7,563.5 1137.5,551.8 1138.7,546 1139.9,544.8 1141,608.3 1142,677.6 1143.4,657.6 1144.3,663 1145.5,644.9 1146.9,516.6 1148.8,482.7 1149.8,487.6 1150.5,469.2 1152.2,471 1154,467.4 1155.8,443.9 1157.5,414.7 1158.5,457.1 1159.3,446 1160.3,488.5 1161.3,530.7 1162.3,521.8 1163.8,576.4 1164.9,514.6 1166.1,538 1168,453.4 1170.3,425.1 1172.6,400.7 1173.3,460.5 1173.8,433.9 1174.4,485 1176.2,493.7 1177.9,507.9 1180,459.4 1182.1,407.7 1183.8,446.4 1185.6,481.5 1186.6,519.3 1187.5,498.8 1189.1,548.3 1189.5,495.2 1190.1,528.8 1191.2,442.8 1192.3,490.4 1193.3,477.4 1194.7,534.2 1197,461.4 1198.4,477.7 1199.7,425.3 1200.4,488.3 1201,458.1 1201.8,523.7 1202.8,476.5 1203.4,483.1 1204.2,442.8 1205.2,387.3 1205.9,401.3 1206.7,355 1207.8,277.6 1209.5,269.7 1211.3,270.6 1213,299.3 1214.8,319.8 1217,316 1219.3,309.3 1220.5,381.2 1221.2,350.8 1221.8,400.7 1223.6,237.2 1224.7,256.8 1225.6,245.7 1227.1,268.8 1228.5,279.2 1229.9,281.1 1231,391.3 1231.7,344.1 1232.4,428.8 1234.2,415.9 1235.9,398.9 1236.9,386.3 1237.9,389.2 1239.4,372.5 1240.4,426.6 1241.1,419.2 1241.8,460.4 1240.4,534.2 1242.6,570.4 1244.7,608.7 1246.5,597.2 1248.2,586.9 1250.3,582.9 1252.4,569.4 1253.7,534.3 1254.7,544 1255.9,509.6 1257.3,515.6 1258.7,527.2 1260.1,492.7 1261,508 1262.2,476.2 1264.1,396.2 1265,421.8 1265.7,376 1267.3,356 1268.3,361 1269.3,346.2 1270.7,334 1272.1,321.6 1273,373 1273.7,355.9 1274.5,404.2 1276.2,443.7 1278,481.5 1279.8,445.2 1281.6,404.2 1282.6,495.6 1283.5,469 1284.7,480.5 1286.8,435.8 1287.5,492.5 1288.3,474.9 1289.6,558.8 1291.1,496.7 1292.1,519.3 1293.2,467.4 1295.3,483.7 1297.4,507.9 1298.8,483.5 1300.2,467.4 1302.3,481.4 1304.4,492 1306.2,503.7 1307.9,516.6 1308.8,538.8 1309.5,529.1 1310.7,555.3 1312,471.2 1312.7,488.5 1313.2,442.8 1315,443 1316.7,446.3 1318.5,447.9 1320.2,441.1 1321.5,497.8 1322.7,562.3 1325,576.6 1327.3,585.2 1329.7,472.2 1331,506.9 1331.8,442.8 1333.5,442.3 1335.3,435.8 1337.4,490.4 1339.6,544.8 1341.7,501.4 1343.8,467.4 1345.7,446.7 1346.7,448.1 1347.6,435.8 1348.8,481.2 1350.1,516.6 1351,595.8 1351.9,667.8 1352.8,592.8 1353.5,620.1 1354.3,551.8 1356.6,563.5 1358.9,576.4 1360.7,453.4 1362,411.4 1362.8,417.3 1363.5,390.1 1364.9,358.4 1365.9,373.7 1367,346.2 1368.2,325.9 1369.4,302.2 1371.2,258.3 1372.6,314.7 1373.4,310.3 1374,340.9 1375.2,398.4 1375.9,374.3 1376.5,414.7 1378.3,451.4 1379.3,447.4 1380,467.4 1381.2,493 1382.4,527.2 1383,573.8 1383.6,569.2 1384.6,636.2 1386.3,624.7 1388.1,615.1 1388.8,550 1390,551.8 1392.1,544.8 1394.2,537.7 1396.2,518.9 1397.5,520.6 1398.8,506.1 1400.5,495.7 1402.3,485 1403.3,447.4 1404,466.7 1405.1,427 1405.7,485.4 1406.2,466.7 1406.9,527.2 1409.2,591.2 1410.3,573.2 1411.1,608 1412.5,607.3 1413.9,606.3 1415.1,539.6 1416.1,574.1 1417.4,506.1 1419.2,551.5 1420.9,594 1422.6,618.8 1423.8,615.4 1425.1,636.2 1425.7,585.5 1426.5,613.5 1428,530.7 1429.2,556.7 1430.4,579.9 1433.1,580.6 1435.7,579.9 1435.7,495.6 1436.7,439.7 1437.5,457.6 1438.5,400.7 1440.6,388.5 1442.7,377.8 1443.7,423.8 1444.6,400.7 1446.2,460.4 1448.3,472.8 1450.5,476.2 1451.5,416.8 1452.6,355 1453.3,326.5 1454,341.2 1455,307.5 1456.8,340.9 1458.5,422.2 1460.3,502.6 1461.4,644.9 1463.1,562.3 1464.8,563.9 1466.6,564.1 1468.3,538.7 1470.1,518.4 1471.5,597.5 1473.3,558.4 1475.1,521.9 1477.3,471.4 1479.6,421.7 1481.9,461 1484.2,499.1 1485.6,407.7 1486.4,366.3 1486.9,387.5 1487.7,346.2 1489.8,360.1 1491.9,369 1493.2,393 1494.2,381.4 1495.4,404.2 1497.2,527.2 1499,503.2 1500.7,476.2 1502,452.2 1503.2,435.8 1504.6,466.9 1506,495.6 1508.7,493.3 1511.3,492 1512.5,479.1 1513.7,456.9 1515.6,480.2 1516.9,470.7 1518.3,490.3 1520,445.9 1521.8,404.2 1522.9,340.9 1524.1,372.8 1525.3,407.7 1526.8,478.7 1527.8,453.4 1528.8,509.6 1530.6,498.1 1532.4,488.5 1534.1,572.9 1536,502.4 1537,527.6 1537.6,488.5 1539.1,573.8 1539.8,549.1 1540.4,599.2 1542.2,528 1543.4,557.1 1544.7,499.1 1546.1,551.8 1547.5,601 1548.7,578.9 1549.9,558.8 1550.8,604.2 1551.5,597.7 1552.4,643.2 1553.8,678.7 1555.2,717 1557,659.6 1558.7,597.5 1560.4,639.5 1561.4,630.9 1562.2,657.2 1563.6,662.7 1565,676.6 1566.2,648.4 1567.5,622.1 1569.2,603.1 1571,585.2 1572.8,748.6 1573.5,718.6 1574.5,722.6 1576.3,667.8 1577.9,641.7 1578.9,644.1 1579.8,625.6 1581.6,530.7 1582.6,609.8 1583.4,571.2 1584.4,648.5 1585.6,619.7 1586.8,583.4 1588.6,546.4 1590.4,507.9 1591.8,502.5 1593.2,502.6 1595,531.8 1596.7,567.6 1598.1,527.2 1600.4,524.3 1602.7,525.4 1603.7,432.3 1605.5,430.3 1607.2,421.7 1608.5,411.9 1609.7,400.7 1610.7,335.6 1612.8,367.8 1615,400.7 1616.3,428.3 1617.3,418.5 1618.5,444.6 1620.2,353.2 1621.9,388.9 1622.9,373.3 1623.7,397.1 1624.4,419.3 1625.1,407.7 1626.2,435.8 1627.6,389.1 1629,347.9 1630.8,297 1632.5,314.6 1634.3,337.4 1636.6,329.6 1638.9,314.5 1640.3,376 1641.7,411.3 1643.1,446.3 1644.8,534.2 1646,564.6 1647,554.6 1648.3,586.9 1649,618.9 1649.7,611.6 1650.8,657.2 1651.8,685.5 1652.9,705.4 1654.2,677.2 1655.4,646.7 1657.2,654.9 1658.9,657.2 1660.7,576.4 1663.3,569.2 1665.9,569.4 1667.5,535.3 1668.4,537.5 1669.4,513.1 1671.1,545.8 1672.1,540.7 1673,562.3 1673.8,540.1 1674.5,550.9 1675.4,527.2 1676.5,583.8 1677.1,572.9 1677.5,606.3 1678.8,555.9 1680,506.1 1682.3,512.9 1684.6,527.2 1685.8,562.6 1687,604.5 1688.1,688.9 1689,675.1 1690,653.7 1691.8,608 1693.1,523.6 1693.8,530.8 1694.2,488.5 1695.5,461.9 1696.5,465 1697.7,439.3 1699.1,434.5 1700.5,423.5 1702.3,426.4 1704.1,428.8 1705.5,440.7 1706.9,456.9 1708.1,464.5 1709.3,481.5 1711,492.5 1712.8,495.6 1713.9,362 1714.8,323.2 1715.5,329.1 1716.4,288.2 1718.2,317.7 1719.9,347.9 1721.7,348.4 1723.4,355 1725.1,442.8 1726.9,425.9 1728.7,418.2 1730.8,413.1 1732.9,411.2 1734.3,464.8 1735.7,525.4 1737.2,493.3 1738.1,504.8 1739.2,478 1740.6,503.2 1742,525.4 1743.8,458.7 1745.5,398.9 1747.7,417.9 1749.8,446.3 1750.8,421.6 1752,435.3 1754,398.9 1755.5,449 1756.2,427.9 1756.8,458.6 1758.5,430.8 1760.3,400.7 1762.1,481.5 1764.5,524.3 1765.8,509.8 1766.6,534.2 1767.6,501.9 1768.3,504.6 1769.1,476.2 1771.4,482.8 1773.7,499.1 1775.1,544.8 1777.3,543.5 1779.6,539.5 1780.8,528.2 1782.1,509.6 1783.8,477 1785.6,451.6 1787.9,446.1 1790.2,435.8 1791.6,391.9 1793,344.4 1794.7,451.6 1795.8,418.3 1796.8,422.6 1798.3,381.3 1800.8,380.8 1803.2,377.8 1804.6,418.7 1806,467.4 1807.8,501.3 1809.5,527.2 1810.9,537.1 1812.3,550 1814,533.4 1815.8,523.7 1816.8,467.2 1817.5,493.2 1818.3,442.8 1819.4,488.4 1820.7,459.9 1822.9,527.2 1825.8,464.9 1828.8,397.1 1829.6,419.6 1830.3,416.4 1831.3,442.8 1832.9,404.1 1834.2,415.6 1835.9,376 1837.7,414.5 1839.4,446.3 1841.1,525.4 1842.6,413.2 1843.4,448.6 1844,383.1 1847,376.2 1849.9,372.5 1851.2,434.4 1851.9,415 1852.4,449.9 1853.6,424.4 1854.4,430.6 1855.2,411.2 1857.8,399 1860.5,388.3 1861.7,418.1 1862.9,453.4 1863.7,485.1 1864.3,470.1 1865,499.1 1866.8,437 1867.8,458.9 1868.6,418.2 1870.1,474.1 1871.1,454.8 1872.1,499.1 1873.8,484.5 1875.6,469.2 1876.5,446 1877.2,450.7 1878,428.8 1879.2,447 1880.2,444.4 1881.6,463.9 1883.3,527.2 1884.4,472.7 1885.4,489.4 1886.8,427 1888.6,423.2 1890.4,418.2 1892.1,337.4 1893.8,348.1 1895.6,363.7 1897.3,346.3 1899.1,332.1 1900,358.8 1901,342.3 1902.7,379.6 1903.9,363.6 1905.1,340.9 1906,313.7 1907,318.4 1908.6,277.6 1909.7,175.7 1910.9,157.7 1911.9,159.2 1913.2,140.5 1914.4,114.4 1915.2,125.3 1916,105 1916.5,141.2 1917.2,119.4 1918.5,179.2 1919.9,171 1921.3,165.1 1921.9,213.3 1922.6,200 1923.7,270.6 1924.7,285.2 1925.8,281.7 1927.3,300.5 1929.5,273.6 1930.7,279 1931.8,261.8 1932.5,333.9 1933.8,352.6 1934.8,343.9 1936,362 1937.1,435.8 1939.2,483.7 1941.3,521.9 1942.5,472.3 1943.2,482 1943.8,449.9 1945.5,480 1947.3,509.6 1949,546.5 1950.8,586.9 1953.1,591.4 1955.4,604.5 1957.1,534.2 1958.9,531 1960.7,537.7 1962.5,507.3 1964.2,469.2 1965,508 1966,485.2 1967.7,543 1969,504.4 1970,519.5 1971.2,481.5 1972.2,461.5 1973.1,472.1 1974.7,446.3 1976.1,423 1977.5,390.1 1978.2,309.3 1980.3,298.9 1982.4,289.9 1983.8,340.4 1985.3,383.1 1986.7,343.8 1987.5,349 1988.1,326.8 1989,322.5 1990,326.8 1991.8,428.8 1993,486.7 1994.2,551.8 1995.6,543.2 1997,534.2 1998.8,478 2000.5,465.7 2002.3,449.9 2003.5,521 2004.2,515.1 2004.8,560.6 2006.2,542.6 2007.6,516.6 2008.5,468.3 2009.2,496 2010.4,439.3 2012.2,432.8 2013.9,421.7 2015.2,469.6 2016.4,509.6 2018.2,510.4 2019.9,502.6 2021.6,460.4 2022.8,436.4 2024.1,405.9 2024.9,422.4 2025.7,418.1 2026.9,439.3 2027.4,475.5 2028.1,457.1 2029.4,516.6 2030.5,542 2031.1,539.9 2031.5,553.6 2032.7,535.6 2033.9,523.7 2035,388.3 2037.1,390.1 2039.2,395.4 2040.7,329.5 2041.5,349.8 2042,312.8 2043.2,307.2 2044.5,302.2 2045.7,292.9 2046.9,289.9 2047.6,313.7 2048.2,300.7 2049.1,326.8 2050.1,363.1 2050.8,347.2 2051.5,376 2052.6,333.4 2053.6,347.1 2055,297 2055.6,332 2056.1,317 2056.8,355 2058.5,405.9 2061.2,389.9 2063.8,381.3 2065.2,422.3 2066.6,467.4 2068.3,443.1 2070.1,425.3 2072.2,470.1 2074.4,516.6 2075.4,414.7 2076.7,468.6 2077.9,513.1 2079.3,482 2080.7,460.4 2082.6,429.2 2083.6,438.8 2084.2,421.7 2084.2,551.8 2086.6,547.3 2089.1,537.7 2090.6,490.8 2091.4,509.4 2091.9,481.5 2091.9,388.3 2093.3,420 2094.7,449.9 2095.2,410.3 2095.9,420.9 2097.2,349.7 2098.9,366.3 2100.7,376 2101.9,399.2 2103.2,414.7 2104,393 2105.1,399.5 2107,362 2108,400.9 2108.7,382.5 2109.5,416.5 2111.2,367.7 2113,326.8 2114.2,376 2115.5,421.7 2117.2,260.1 2118.6,292.6 2120.1,326.8 2121.5,250.9 2122.3,281.6 2122.9,233.7 2124.1,252.6 2125.3,270.6 2127.1,274.7 2128.8,288.2 2130.6,330.4 2131.1,387.2 2131.6,373.4 2132.4,448.1 2134.2,433.9 2135.9,425.3 2137.7,393.7 2139.4,358.5 2140.6,397.7 2141.3,395.4 2141.8,416.5 2143.2,385.7 2144.7,353.2 2146.4,365.1 2148.2,381.3 2149.9,478 2152.2,430.8 2154.5,376 2155.5,421.9 2156.7,396.7 2158.7,462.2 2159.7,426.2 2160.9,441.2 2162.9,386.6 2163.7,444 2164.5,428.3 2165.7,506.1 2167.5,494.9 2169.3,492 2170.7,434.7 2172.1,376 2173.6,367 2175.2,355 2177.1,361.7 2179.1,372.5 2179.8,467.4 2181.6,604.5 2183.3,595.1 2185.1,576.4 2186.3,593.7 2187.5,601 2188.1,568.7 2188.6,573.3 2189.3,534.2 2190.5,556 2191.3,548.6 2192.1,565.9 2193.8,568.8 2195.6,574.6 2196.8,559.1 2198.1,541.2 2199.1,572.1 2200.2,604.5 2201.9,600.7 2203.7,594 2204.4,534.5 2204.9,557.1 2205.5,502.6 2206.5,466.7 2207.2,471.7 2207.9,442.8 2209.7,469.2 2210.9,408.7 2211.6,426.7 2212.5,376 2213.2,443.6 2213.9,421.4 2215,514.9 2216.7,467.4 2218.4,458.4 2220.2,446.3 2220.7,505.9 2221.2,487.7 2222,569.4 2223.7,671.3 2225.5,664.1 2227.3,660.8 2228.7,631.5 2229.7,640.2 2230.8,615.1 2232.5,507.9 2233.2,526.6 2234.2,514.3 2236,544.8 2236.7,562.1 2237.5,556.9 2238.9,583.4 2240.3,677.6 2241.7,663 2243.1,639.7 2244.8,622.7 2246.6,611.5 2248,530.4 2249.4,458.6 2250.2,502.5 2251.2,482.7 2252.9,548.3 2254.3,470.9 2256.1,493.3 2257.8,513.1 2259.6,535 2261.4,551.8 2262.8,557.7 2264.2,558.8 2265.9,423.5 2267.7,485.9 2268.7,460.7 2269.4,499.1 2271.2,497.1 2273,488.5 2274.1,398.4 2274.8,425.2 2275.4,358.5 2276.2,398.1 2277,378.4 2278.2,427 2279.1,380.5 2280,328.6 2281.7,272.4 2283.3,329 2284.4,322.9 2285.3,362 2287.1,325.7 2288.8,298.7 2289.5,317.2 2290.2,308 2291.6,335.6 2293.3,316.8 2295.1,298.7 2296.3,317.2 2297.6,333.9 2298.8,321 2300,298.7 2301.1,333.2 2304.2,289.5 2307.4,249.2" fill="none" stroke="#ff0000" stroke-width="3.5" stroke-linejoin="round" stroke-linecap="round" shape-rendering="crispEdges"/>
</g>
<text transform="translate(158.2,902.4) scale(0.96,1)" font-size="52">0:00</text><text transform="translate(331.5,902.4) scale(0.96,1)" font-size="52">2:00</text><text transform="translate(507.9,902.4) scale(0.96,1)" font-size="52">4:00</text><text transform="translate(683.1,902.4) scale(0.96,1)" font-size="52">6:00</text><text transform="translate(859,902.4) scale(0.96,1)" font-size="52">8:00</text><text transform="translate(1021.1,902.4) scale(0.96,1)" font-size="52">10:00</text><text transform="translate(1196.9,902.4) scale(0.96,1)" font-size="52">12:00</text><text transform="translate(1372.7,902.4) scale(0.96,1)" font-size="52">14:00</text><text transform="translate(1548.5,902.4) scale(0.96,1)" font-size="52">16:00</text><text transform="translate(1724.3,902.4) scale(0.96,1)" font-size="52">18:00</text><text transform="translate(1901.2,902.4) scale(0.96,1)" font-size="52">20:00</text><text transform="translate(2077,902.4) scale(0.96,1)" font-size="52">22:00</text><text transform="translate(2252.8,902.4) scale(0.96,1)" font-size="52">24:00</text>
<text transform="translate(122.7,69.8) scale(0.9297,1)" font-size="52">0.3</text><text transform="translate(122.6,200.7) scale(0.9559,1)" font-size="52">0.2</text><text transform="translate(122.6,331.4) scale(0.9132,1)" font-size="52">0.1</text><text transform="translate(150.7,467) scale(0.9892,1)" font-size="52">0</text><text transform="translate(114,598.2) scale(0.9319,1)" font-size="52">-0.1</text><text transform="translate(113.9,731.4) scale(0.9611,1)" font-size="52">-0.2</text><text transform="translate(114,854.9) scale(0.9214,1)" font-size="52">-0.3</text>
<text transform="translate(1191.8,968) scale(0.9658,1)" font-size="63">Time</text>
<text transform="translate(90.8,775.1) rotate(-90) scale(0.9624,1)" font-size="64">The load fluctuation (p.u.)</text>
<g stroke="#000"><line x1="194.1" y1="1120.1" x2="2279.9" y2="1120.1" stroke-width="3.7"/><line x1="194.1" y1="1865.0" x2="2279.9" y2="1865.0" stroke-width="3.7"/><line x1="196.0" y1="1118.25" x2="196.0" y2="1866.85" stroke-width="3.8"/><line x1="2278.0" y1="1118.25" x2="2278.0" y2="1866.85" stroke-width="3.8"/></g>
<g stroke="#000" stroke-width="3.7" stroke-linecap="round">
<line x1="364.9" y1="1864" x2="364.9" y2="1844.5"/><line x1="364.9" y1="1121.1" x2="364.9" y2="1137.7"/>
<line x1="538.8" y1="1864" x2="538.8" y2="1844.5"/><line x1="538.8" y1="1121.1" x2="538.8" y2="1137.7"/>
<line x1="712.7" y1="1864" x2="712.7" y2="1844.5"/><line x1="712.7" y1="1121.1" x2="712.7" y2="1137.7"/>
<line x1="886.6" y1="1864" x2="886.6" y2="1844.5"/><line x1="886.6" y1="1121.1" x2="886.6" y2="1137.7"/>
<line x1="1060.5" y1="1864" x2="1060.5" y2="1844.5"/><line x1="1060.5" y1="1121.1" x2="1060.5" y2="1137.7"/>
<line x1="1234.4" y1="1864" x2="1234.4" y2="1844.5"/><line x1="1234.4" y1="1121.1" x2="1234.4" y2="1137.7"/>
<line x1="1408.3" y1="1864" x2="1408.3" y2="1844.5"/><line x1="1408.3" y1="1121.1" x2="1408.3" y2="1137.7"/>
<line x1="1582.2" y1="1864" x2="1582.2" y2="1844.5"/><line x1="1582.2" y1="1121.1" x2="1582.2" y2="1137.7"/>
<line x1="1756.1" y1="1864" x2="1756.1" y2="1844.5"/><line x1="1756.1" y1="1121.1" x2="1756.1" y2="1137.7"/>
<line x1="1930" y1="1864" x2="1930" y2="1844.5"/><line x1="1930" y1="1121.1" x2="1930" y2="1137.7"/>
<line x1="2103.9" y1="1864" x2="2103.9" y2="1844.5"/><line x1="2103.9" y1="1121.1" x2="2103.9" y2="1137.7"/>
</g>
<g stroke="#000" stroke-width="3.7" stroke-linecap="round">
<line x1="197" y1="1210.8" x2="214.1" y2="1210.8"/><line x1="2277" y1="1210.8" x2="2257" y2="1210.8"/>
<line x1="197" y1="1304.3" x2="214.1" y2="1304.3"/><line x1="2277" y1="1304.3" x2="2257" y2="1304.3"/>
<line x1="197" y1="1397.8" x2="214.1" y2="1397.8"/><line x1="2277" y1="1397.8" x2="2257" y2="1397.8"/>
<line x1="197" y1="1491.2" x2="214.1" y2="1491.2"/><line x1="2277" y1="1491.2" x2="2257" y2="1491.2"/>
<line x1="197" y1="1584.7" x2="214.1" y2="1584.7"/><line x1="2277" y1="1584.7" x2="2257" y2="1584.7"/>
<line x1="197" y1="1678.1" x2="214.1" y2="1678.1"/><line x1="2277" y1="1678.1" x2="2257" y2="1678.1"/>
<line x1="197" y1="1771.5" x2="214.1" y2="1771.5"/><line x1="2277" y1="1771.5" x2="2257" y2="1771.5"/>
</g>
<clipPath id="cb"><rect x="194.3" y="1120.1" width="2085.4" height="744.9"/></clipPath>
<g clip-path="url(#cb)">
<polyline points="197.7,1540 199.2,1531.6 200.8,1528.5 202.2,1541.4 203.5,1553.5 204.8,1558 206,1566.1 207.3,1570.8 208.7,1584.6 210,1595.8 211.3,1592.1 212.5,1592.2 213.8,1597.7 215,1605.9 216.2,1607.3 217.7,1628.5 219.4,1625.4 221,1624.5 222.7,1626.5 224.6,1655.4 226.2,1670.8 227.3,1666.1 228.5,1651.5 229.8,1655.1 231,1662.6 232.3,1663.1 233.9,1649.4 235.4,1636.2 236.8,1643.3 238.1,1647.7 239.4,1630.8 240.8,1620.8 242.3,1625 243.8,1626.5 245.4,1620.6 246.9,1607.3 248.2,1605.6 249.5,1605.8 250.8,1601.5 252.2,1601.3 253.5,1597.7 254.8,1585.6 256.2,1582.3 257.5,1583.6 258.7,1580.7 260,1578.5 261.6,1571.7 263.1,1568.8 265,1595.8 266.4,1569 267.7,1551.5 269,1553.9 270.2,1548.7 271.5,1547.7 273.1,1557.6 274.6,1563.1 276.1,1562.1 277.7,1553.5 279,1548.9 280.4,1540 281.9,1530.8 283.5,1513.1 285.4,1547.7 286.8,1559.1 288.1,1572.7 289.5,1559.4 290.8,1540 292.1,1535.6 293.3,1536.7 294.6,1528.5 296.1,1539.9 297.7,1543.8 299,1536 300.4,1536.2 301.9,1539.3 303.5,1549.6 305.4,1566.9 306.9,1547.7 308.5,1534.2 309.9,1550.4 311.2,1557.3 312.5,1563.4 313.8,1570.8 315.5,1568.9 317.1,1562.4 318.8,1561.2 320.1,1558.7 321.4,1554.9 322.7,1553.5 324.4,1550.1 326,1550.5 327.7,1547.7 329.2,1532.3 330.8,1529.3 332.3,1524.6 333.9,1513.2 335.4,1493.8 337.1,1488 338.8,1478.5 340,1489.5 341.2,1491.9 342.5,1488.8 343.8,1478.5 345.4,1484.4 346.9,1480.4 348.5,1453.5 349.9,1454.8 351.3,1449.3 352.7,1452.3 354.6,1474.6 356,1487.8 357.3,1493.8 358.6,1508.1 360,1513.1 361.9,1482.3 363.4,1499.8 365,1509.2 366.4,1503.2 367.7,1495.8 369.2,1510.4 370.8,1520.8 372.3,1514.1 373.8,1513.1 375.4,1519.3 376.9,1518.8 378.5,1551.5 379.9,1558 381.2,1563.1 382.7,1545.5 384.2,1532.3 385.5,1535.6 386.9,1547.7 388.4,1547.4 390,1540 391.3,1543 392.5,1532 393.8,1534.2 395.4,1525.7 396.9,1511.2 398.2,1519 399.6,1528.5 401,1519.2 402.3,1516.9 403.9,1506.2 405.4,1499.6 406.9,1512.9 408.5,1520.8 409.9,1514.9 411.2,1501.5 412.5,1498.2 413.7,1505.2 415,1505.4 416.3,1494.4 417.5,1494.8 418.8,1486.2 420.1,1487 421.4,1495.1 422.7,1493.8 424,1492.9 425.4,1482.3 426.9,1475.6 428.5,1468.8 430,1478.6 431.5,1478.5 433.1,1476.6 434.6,1474.3 436.2,1478.5 438.1,1505.4 439.4,1507 440.6,1502 441.9,1507.3 443.8,1522.7 445.4,1511 446.9,1505.4 448.2,1502.5 449.5,1502.6 450.8,1499.6 452.1,1505.8 453.5,1518.8 454.9,1517.1 456.2,1524.6 457.4,1533.1 458.5,1534.2 459.9,1514.1 461.2,1497.7 463.1,1478.5 464.4,1483.7 465.6,1483.7 466.9,1480.4 468.2,1476.6 469.5,1474.9 470.8,1472.7 472.3,1474.8 473.8,1476.5 475.1,1471.2 476.5,1463.1 477.9,1469.8 479.2,1474.6 480.8,1474.2 482.3,1472.7 483.9,1468.2 485.4,1461.2 486.8,1478.1 488.1,1486.2 489.5,1488.2 490.8,1490 492.3,1481.6 493.8,1474.6 495.4,1478.8 496.9,1478.5 498.2,1464.3 499.6,1455.4 501,1437.1 502.3,1422.7 503.9,1430.4 505.4,1428.5 507.3,1401.5 508.6,1399.8 509.9,1398.2 511.2,1395.8 512.7,1387.4 514.3,1388 515.8,1385.4 517.7,1409.2 518.8,1432.3 520.1,1436.9 521.4,1435.2 522.7,1443.8 524,1450.8 525.2,1456.7 526.5,1461.2 527.8,1454.9 529.1,1458.6 530.4,1455.4 531.8,1450.3 533.1,1445.8 534.2,1462 535.4,1474.6 536.9,1497.7 538.5,1492.4 540,1490 541.5,1498.8 543.1,1503.5 544.4,1505.2 545.6,1497.4 546.9,1501.5 548.2,1500 549.6,1507.3 551,1518.7 552.3,1526.5 553.8,1535 555.4,1534.2 557,1522.1 558.5,1515 559.9,1509.8 561.2,1505.4 562.5,1502.5 563.7,1495.9 565,1493.8 566.4,1512.6 567.7,1534.2 569.2,1529.5 570.8,1528.5 572.1,1520.8 573.3,1516.6 574.6,1509.2 576.2,1501.5 577.7,1497.7 579.2,1497.1 580.8,1501.7 582.3,1499.6 583.8,1504.5 585.4,1518.8 586.8,1525.3 588.1,1530.4 589.5,1523.2 590.8,1511.2 592.3,1516 593.8,1524.6 595.3,1512.2 596.9,1505.4 598.2,1513.2 599.6,1515 601,1524.9 602.3,1540 603.6,1537.5 604.9,1540.6 606.2,1541.9 607.4,1550.6 608.5,1555.4 609.9,1544.7 611.2,1541.9 612.5,1541.1 613.8,1543.8 615,1557.5 616.2,1574.6 617.5,1590.4 618.8,1599.6 620.1,1598 621.5,1597.7 622.6,1615.7 623.8,1626.5 625.4,1590 627,1592.4 628.5,1601.5 630,1598 631.5,1597.7 632.9,1613.6 634.2,1626.5 635.5,1634.8 636.8,1635 638.1,1640 640,1651.5 641.5,1642.1 643.1,1638.1 644.4,1635.6 645.6,1640.9 646.9,1641.9 648.2,1636 649.6,1636.2 651.3,1638 652.9,1637 654.6,1632.3 656,1620.5 657.3,1615 658.6,1616.6 660,1622.7 661.1,1629.6 662.3,1630.4 663.6,1636.3 664.9,1642.4 666.2,1643.8 667.5,1626.9 668.8,1613.1 670.1,1608.1 671.4,1608.4 672.7,1609.2 674.6,1640 676.2,1640 677.7,1634.2 679,1632.9 680.4,1636.2 681.8,1626 683.1,1618.8 684.7,1612.2 686.2,1607.3 687.7,1613.2 689.2,1620.8 690.5,1617 691.9,1615 693.2,1623 694.5,1619.2 695.8,1626.5 697.1,1622.5 698.5,1628.5 699.6,1612.7 700.8,1588.1 702.1,1584.2 703.3,1577.6 704.6,1565 706,1573 707.3,1582.3 708.6,1588.7 709.9,1590.4 711.2,1588.1 713.1,1643.8 714.7,1637.2 716.2,1636.2 717.5,1631 718.8,1620.8 720.8,1636.2 722.7,1653.5 724,1658.1 725.2,1657.7 726.5,1657.3 727.9,1662.3 729.2,1666.9 730.8,1670.6 732.3,1678.5 733.8,1665.4 735.4,1655.4 736.8,1670 738.1,1690 740,1707.3 741.5,1696.2 743.1,1693.8 744.6,1688.9 746.2,1680.1 747.7,1676.5 749,1675.1 750.2,1663 751.5,1663.1 752.7,1640 754.6,1601.5 756,1597.9 757.3,1586.2 758.6,1582.3 760,1574.6 761.1,1565.4 762.3,1547.7 763.6,1554.6 765,1553.5 766.3,1558.1 767.5,1555.5 768.8,1555.4 770.3,1544.7 771.9,1543.8 773.2,1556.9 774.6,1565 776.2,1541.5 777.7,1524.6 779,1503.4 780.4,1486.2 782.3,1474.6 783.8,1470.5 785.4,1463.1 786.8,1443.1 788.1,1422.7 789.5,1411.2 790.8,1401.5 792.3,1398.2 793.8,1386.2 795.8,1374.6 797.1,1380.5 798.5,1384.2 800,1386.5 801.5,1391.9 803.5,1365 804.9,1376.9 806.2,1393.8 807.7,1384 809.2,1366.9 810.5,1364.8 811.8,1365.9 813.1,1361.2 814.4,1355.9 815.6,1350.4 816.9,1349.6 818.8,1366.9 820.8,1332.3 822.1,1328.1 823.3,1326.5 824.6,1318.8 825.9,1311 827.2,1312.8 828.5,1305.4 830,1306.7 831.5,1299.6 832.9,1296.9 834.2,1288.1 836.2,1272.7 838.1,1259.2 839.4,1262.4 840.6,1254.3 841.9,1259.2 843.8,1280.4 845.1,1277.2 846.4,1275 847.7,1266.9 849.2,1260.5 850.8,1263.1 852.1,1255 853.5,1251.5 854.8,1255.6 856,1264.6 857.3,1270.8 859.2,1251.5 860.8,1241.1 862.3,1232.3 863.6,1238.8 865,1245.8 866.3,1255.6 867.5,1254.9 868.8,1266.9 870.1,1269.2 871.5,1280.4 873,1273.8 874.6,1274.6 875.9,1265.7 877.2,1260 878.5,1259.2 879.8,1261.4 881,1257.6 882.3,1251.5 883.8,1260.9 885.4,1278.5 886.8,1303.5 888.1,1328.5 890,1330.4 891.5,1348.8 893.1,1370.8 894.5,1375.6 895.8,1384.2 897.1,1383.4 898.3,1387 899.6,1386.2 900.8,1359.2 902.1,1363.9 903.5,1366.9 904.8,1359.7 906,1352.3 907.3,1349.6 909.2,1328.5 911.2,1290 912.5,1292.1 913.8,1297.7 915,1313.2 916.2,1336.2 917.5,1319.4 918.8,1301.5 920.1,1310.1 921.4,1313.2 922.7,1320.8 924,1337.7 925.4,1363.1 927,1365.6 928.5,1374.6 930,1382.9 931.5,1393.8 932.9,1395.8 934.2,1395.8 936.2,1370.8 937.7,1365.9 939.2,1355.4 940.5,1353.3 941.9,1353.5 943.1,1378.5 944.5,1390.2 945.8,1395.8 947.1,1400.9 948.5,1403.5 949.6,1440 951,1448.9 952.3,1459.2 953.8,1446.4 955.4,1436.2 957.3,1457.3 958.6,1456.6 959.9,1458.1 961.2,1455.4 962.5,1435.4 963.8,1416.9 965,1403.5 966.2,1386.2 967.5,1382 968.8,1378.5 970.1,1372.1 971.5,1370.8 972.7,1332.3 974,1330.8 975.4,1328.5 977,1319.9 978.5,1307.3 980,1295.3 981.5,1291.9 982.9,1310.4 984.2,1330.4 985.5,1325.8 986.9,1322.7 988,1331.3 989.2,1332.3 990.5,1333.8 991.9,1326.5 993.2,1325.9 994.5,1331.8 995.8,1328.5 997.1,1328.5 998.5,1322.7 1000,1329 1001.5,1340 1003.5,1324.6 1004.8,1316.5 1006,1305.4 1007.3,1301.5 1009.2,1272.7 1010.5,1277.8 1011.8,1278.2 1013.1,1278.5 1014.7,1297.7 1016.2,1309.2 1017.5,1325.6 1018.8,1336.2 1020.8,1361.2 1022.3,1365.7 1023.8,1366.9 1025.2,1380.8 1026.5,1390 1027.8,1401.2 1029.2,1411.2 1030.8,1407.2 1032.3,1411.2 1034.2,1393.8 1035.6,1395.7 1036.9,1395.8 1038.1,1386 1039.2,1386.2 1040.6,1394.1 1041.9,1409.2 1043.8,1395.8 1045.8,1426.5 1047.2,1423.5 1048.5,1415 1050,1405.6 1051.5,1405.4 1053,1395.5 1054.6,1393.8 1056.2,1365 1057.7,1361.9 1059.2,1366.9 1060.8,1380.4 1062.3,1386.2 1063.7,1376.2 1065,1372.7 1066.3,1368.9 1067.7,1374.6 1069.2,1377.1 1070.8,1372.7 1072.3,1368 1073.8,1370.8 1075.2,1379 1076.5,1380.4 1078.5,1395.8 1080.4,1359.2 1081.7,1360.3 1082.9,1361.3 1084.2,1357.3 1086.2,1343.8 1088.1,1328.5 1090,1359.2 1090.8,1393.8 1092.3,1406 1093.8,1409.2 1095.8,1393.8 1097.2,1390.8 1098.5,1386.2 1100,1387.2 1101.5,1382.3 1103.5,1405.4 1105.4,1413.1 1107,1418.1 1108.5,1432.3 1109.8,1429.2 1111.2,1420.8 1113.1,1443.8 1115,1474.6 1116.3,1480.5 1117.7,1486.2 1118.8,1498 1120,1505.4 1121.5,1530.4 1122.7,1518.8 1123.8,1515 1125.2,1516.5 1126.5,1513.1 1127.8,1513.6 1129.2,1505.4 1130.8,1503.9 1132.3,1511.2 1133.6,1502.4 1134.9,1497.7 1136.2,1490 1137.7,1495.2 1139.2,1493.8 1140.6,1475.9 1141.9,1463.1 1143.2,1470.4 1144.6,1484.2 1146.2,1485.5 1147.7,1491.9 1149,1488.6 1150.2,1485.5 1151.5,1478.5 1153.5,1443.8 1155.4,1438.1 1156.7,1438.9 1157.9,1440.6 1159.2,1443.8 1161.2,1466.9 1162.5,1448.6 1163.8,1432.3 1165.1,1421.8 1166.4,1413.5 1167.7,1405.4 1168.8,1402.2 1170,1407.3 1171.3,1416 1172.7,1424.6 1174,1429.3 1175.2,1423.7 1176.5,1424.6 1177.8,1451.1 1179.2,1472.7 1180.8,1456.8 1182.3,1447.7 1184.2,1441.9 1185.6,1455.4 1186.9,1465 1188.1,1477.2 1189.2,1484.2 1190.6,1486.9 1191.9,1486.2 1193.2,1492.8 1194.5,1498.8 1195.8,1505.4 1197.2,1502 1198.5,1495.8 1200,1507.5 1201.5,1511.2 1203,1513.4 1204.6,1522.7 1206.2,1493.8 1207.7,1486 1209.2,1486.2 1211.2,1459.2 1213.1,1474.6 1214.7,1473.2 1216.2,1466.9 1216.9,1453.5 1218.5,1483.6 1220,1505.4 1221.3,1503.6 1222.5,1501 1223.8,1499.6 1225.4,1478.5 1227,1471 1228.5,1459.2 1229.8,1454.2 1231,1453.1 1232.3,1453.5 1233.8,1445.6 1235.4,1443.8 1236.8,1436 1238.1,1426.5 1240,1426.5 1241.5,1406.4 1243.1,1390 1244.4,1383.5 1245.8,1382.3 1247.2,1390 1248.5,1393.8 1250,1408 1251.5,1413.1 1253,1405.3 1254.6,1401.5 1255.9,1407.4 1257.3,1409.2 1258.7,1402.6 1260,1397.7 1261.2,1418.5 1262.3,1432.3 1263.7,1442.7 1265,1451.5 1266.3,1437.7 1267.7,1428.5 1269.2,1414.1 1270.8,1405.4 1272.3,1398.7 1273.8,1401.5 1275.2,1392.6 1276.5,1384.2 1277.8,1381.8 1279.1,1378.4 1280.4,1380.4 1281.7,1377.1 1282.9,1374.8 1284.2,1374.6 1286.2,1390 1287.7,1406.2 1289.2,1416.9 1290.6,1407.6 1291.9,1405.4 1293.8,1403.5 1295.3,1419 1296.9,1424.6 1298.2,1422.5 1299.6,1420.8 1300.9,1434.3 1302.3,1445.8 1303.8,1429.1 1305.4,1413.1 1306.2,1459.2 1307.3,1474.1 1308.5,1482.3 1309.8,1479.8 1311.2,1470.8 1312.5,1465.6 1313.8,1459.2 1315,1451.3 1316.2,1443.8 1317.5,1442.2 1318.8,1436.2 1320.2,1445.5 1321.5,1447.7 1322.7,1438.1 1323.8,1430.4 1325.2,1435.6 1326.5,1436.2 1328.5,1466.9 1330.4,1486.2 1332.3,1509.2 1334.2,1493.8 1336.2,1470.8 1337.7,1477.3 1339.2,1474.6 1340.6,1481 1341.9,1488.1 1343.8,1459.2 1345.1,1455.9 1346.4,1455.3 1347.7,1457.3 1349.2,1465.2 1350.8,1468.8 1351.5,1443.8 1353,1441.8 1354.6,1436.2 1355.9,1431.1 1357.3,1416.9 1358.7,1413.7 1360,1403.5 1361.5,1405.7 1363.1,1413.1 1364.7,1417.7 1366.2,1428.5 1367.5,1433.7 1368.8,1443.8 1370.2,1448.4 1371.5,1459.2 1373,1447.8 1374.6,1432.3 1376.2,1429.1 1377.7,1418.8 1379.1,1414.1 1380.4,1401.5 1381.8,1393.3 1383.1,1390 1384.2,1392.7 1385.4,1388.1 1386.8,1389.1 1388.1,1393.8 1389.4,1398.8 1390.8,1405.4 1391.9,1411.5 1393.1,1413.1 1394.4,1420.5 1395.8,1436.2 1397.2,1442.7 1398.5,1457.3 1399.7,1455.8 1400.8,1447.7 1402.2,1457.2 1403.5,1470.8 1404.8,1461.7 1406.2,1455.4 1407.7,1465.8 1409.2,1474.6 1411.2,1466.9 1412.5,1486 1413.8,1501.5 1415,1481.2 1416.2,1470.8 1417.5,1467.2 1418.8,1466.9 1420.8,1497.7 1422.3,1488.4 1423.8,1480.4 1425.2,1481.2 1426.5,1482.3 1427.8,1482.3 1429.2,1488.1 1430.8,1478.4 1432.3,1466.9 1433.6,1471.5 1434.9,1465.8 1436.2,1466.9 1438.1,1443.8 1440,1413.1 1441.5,1412.6 1443.1,1411.2 1444.4,1415 1445.8,1426.5 1447.7,1390 1449.6,1359.2 1450.9,1362.7 1452.3,1370.8 1453.4,1387.8 1454.6,1401.5 1455.9,1399.6 1457.3,1405.4 1458.6,1407.3 1459.9,1405.6 1461.2,1399.6 1462.5,1401.4 1463.8,1411.2 1465.3,1426.2 1466.9,1432.3 1468.8,1441.9 1470,1409.2 1471.3,1405.1 1472.7,1403.5 1474.6,1370.8 1476.2,1378.3 1477.7,1380.4 1479.1,1373.4 1480.4,1361.2 1481.8,1354.3 1483.1,1351.5 1484.7,1370.6 1486.2,1386.2 1486.9,1340 1488.1,1326.1 1489.2,1309.2 1490.6,1300.8 1491.9,1286.2 1493.2,1287.7 1494.6,1293.8 1495.8,1305 1496.9,1311.2 1498.5,1320.8 1500,1311.9 1501.5,1293.8 1503,1287.9 1504.6,1278.5 1505.9,1273.1 1507.3,1266.9 1508.7,1259.2 1510,1259.2 1511.3,1264.3 1512.5,1268 1513.8,1274.6 1515.3,1267.2 1516.9,1255.4 1518.5,1248.5 1520,1238.1 1521.3,1248.4 1522.7,1257.3 1524,1252.2 1525.2,1254.9 1526.5,1251.5 1528.5,1220.8 1530,1221.1 1531.5,1218.8 1532.8,1226.2 1534.2,1240 1535.6,1230.4 1536.9,1213.1 1538.5,1208.9 1540,1201.5 1541.3,1197.5 1542.5,1205.4 1543.8,1200.8 1545.3,1209.1 1546.9,1224.6 1548.2,1225.5 1549.5,1231.9 1550.8,1232.3 1552.2,1217.9 1553.5,1201.5 1555.4,1216.9 1557,1228 1558.5,1238.1 1559.8,1248.2 1561.2,1255.4 1562.5,1250.2 1563.8,1245.8 1565.3,1242 1566.9,1241.9 1568.5,1243.5 1570,1251.5 1571.3,1251.1 1572.5,1261.4 1573.8,1263.1 1575.2,1256 1576.5,1243.8 1578.5,1266.9 1580,1275 1581.5,1282.3 1583.1,1313.1 1584.2,1330.8 1585.4,1343.8 1586.8,1358.7 1588.1,1376.5 1590,1370.8 1591.5,1372.3 1593.1,1378.5 1594.4,1390.8 1595.8,1405.4 1597.2,1401.4 1598.5,1390 1600,1383.5 1601.5,1386.2 1603.5,1380.4 1604.8,1389.1 1606.2,1397.7 1607.7,1400.9 1609.2,1409.2 1610.8,1417.7 1612.3,1420.8 1613.7,1430.8 1615,1443.8 1616.3,1417.1 1617.7,1393.8 1619.2,1379.4 1620.8,1366.9 1622.7,1370.8 1624.1,1378.9 1625.4,1386.2 1626.6,1400.4 1627.7,1409.2 1628.5,1441.9 1630,1449.1 1631.5,1459.2 1632.8,1472.3 1634.2,1478.5 1636.2,1490 1637.7,1491.9 1639.2,1501.5 1640.6,1492.5 1641.9,1488.1 1643.2,1488.9 1644.6,1497.7 1646.2,1482.3 1647.7,1474.6 1649.2,1482.2 1650.8,1484.2 1652.3,1459.2 1653.8,1453.8 1655.4,1443.8 1657,1437.8 1658.5,1438.1 1659.8,1433.7 1661,1434.7 1662.3,1434.2 1663.7,1433.8 1665,1428.5 1666.3,1424 1667.5,1415.6 1668.8,1405.4 1670.2,1419.8 1671.5,1432.3 1673,1434.5 1674.6,1443.8 1676.2,1435.1 1677.7,1428.5 1679.2,1424.1 1680.8,1426.2 1682.3,1424.6 1684.2,1393.8 1686.2,1382.3 1687.7,1369.5 1689.2,1355.4 1690.6,1337 1691.9,1324.6 1693.2,1321.2 1694.6,1322.7 1695.8,1349.6 1696.9,1370.8 1698.2,1358.4 1699.6,1355.4 1700.9,1361 1702.2,1364.4 1703.5,1363.1 1704.8,1352.2 1706.2,1332.3 1707.7,1330.2 1709.2,1330.4 1710.8,1335.7 1712.3,1340 1713.7,1331.2 1715,1320.8 1716.3,1320.2 1717.7,1316.9 1719.2,1313 1720.8,1299.6 1722.3,1305.3 1723.8,1307.3 1725.4,1330.4 1726.6,1315.9 1727.7,1305.4 1729.1,1299.4 1730.4,1286.2 1731.8,1272.5 1733.1,1259.2 1734.2,1243.9 1735.4,1226.5 1736.7,1226.9 1737.9,1217.7 1739.2,1220.8 1740.6,1228.3 1741.9,1230.4 1743.8,1255.4 1745.3,1260.9 1746.9,1263.1 1748.2,1276.5 1749.6,1290 1750.9,1297 1752.3,1303.5 1753.4,1292.5 1754.6,1282.3 1755.9,1288.8 1757.3,1301.5 1758.7,1284.5 1760,1266.9 1761.2,1253.6 1762.3,1249.6 1763.7,1239.1 1765,1228.5 1766.3,1227.1 1767.7,1222.7 1768.8,1201.5 1770.2,1207.7 1771.5,1215 1772.7,1222.4 1773.8,1228.5 1775.2,1224.4 1776.5,1211.2 1777.8,1212.2 1779.2,1205.4 1781.2,1188.1 1782.3,1194.1 1783.5,1207.3 1784.8,1217 1786.2,1220.8 1787.7,1204.7 1789.2,1186.2 1790.6,1169.2 1791.9,1161.2 1793.8,1157.3 1795.3,1165.5 1796.9,1176.5 1798.2,1181.5 1799.6,1191.9 1800.9,1187 1802.2,1191 1803.5,1190 1804.8,1188.5 1806.2,1178.5 1807.3,1177.7 1808.5,1180.4 1809.8,1177.4 1811.2,1166.9 1812.5,1176.5 1813.8,1182.3 1815.3,1172.9 1816.9,1170.8 1818.8,1186.2 1820.8,1222.7 1822.3,1220.5 1823.8,1211.2 1825.1,1209.6 1826.4,1210.3 1827.7,1203.5 1829.1,1202.8 1830.4,1197.7 1831.8,1202 1833.1,1201.5 1834.7,1188.4 1836.2,1178.5 1838.1,1163.1 1839.4,1186.4 1840.8,1203.5 1841.9,1176.5 1843.2,1179.6 1844.5,1177.6 1845.8,1172.7 1847.2,1170.1 1848.5,1168.8 1850,1177.2 1851.5,1180.4 1852.8,1182.2 1854.1,1180.4 1855.4,1186.2 1857.3,1205.4 1858.7,1210.4 1860,1224.6 1861.5,1230 1863.1,1243.8 1864.7,1233.2 1866.2,1228.5 1867.5,1218.4 1868.8,1215 1870.2,1210.2 1871.5,1205.4 1872.7,1216 1873.8,1222.7 1875.4,1224.3 1876.9,1224.5 1878.5,1226.5 1880.4,1238.1 1882.3,1263.1 1884.2,1286.2 1885.6,1291.5 1886.9,1293.8 1888.5,1298.6 1890,1307.3 1891.5,1302.1 1893.1,1297.7 1894.4,1296.4 1895.8,1290 1897.7,1309.2 1899.6,1328.5 1900.9,1329.4 1902.3,1332.3 1903.4,1340.7 1904.6,1355.4 1906.2,1376.5 1907.7,1375.7 1909.2,1366.9 1911.2,1332.3 1912.5,1326.8 1913.8,1316.9 1915.3,1321.4 1916.9,1328.5 1918.5,1333.9 1920,1341.9 1921.5,1374.6 1922.7,1365.3 1923.8,1355.4 1925.2,1364.1 1926.5,1370.8 1927.8,1366.7 1929.1,1363.2 1930.4,1366.9 1931.8,1365.9 1933.1,1370.8 1934.2,1367.8 1935.4,1359.2 1936.8,1366.2 1938.1,1380.4 1940,1370.8 1941.5,1369.4 1943.1,1368.8 1944.4,1362 1945.8,1361.2 1947.2,1354.4 1948.5,1353.5 1950,1347.3 1951.5,1347.7 1953.5,1328.5 1954.8,1313.1 1956.2,1299.6 1957.5,1298.2 1958.7,1298.7 1960,1305.4 1961.2,1309.2 1962.3,1320.8 1963.7,1311.7 1965,1309.2 1966.3,1320.7 1967.7,1332.3 1969.2,1317.3 1970.8,1311.2 1972.3,1315.1 1973.8,1328.5 1975.2,1325.1 1976.5,1322.7 1978.5,1353.5 1980,1338.1 1981.5,1324.6 1982.8,1325.4 1984.1,1317.6 1985.4,1320.8 1986.8,1327.5 1988.1,1336.2 1989.4,1337.1 1990.8,1340 1992.3,1326.6 1993.8,1322.7 1995.8,1313.1 1997.2,1333.1 1998.5,1343.8 2000,1344.8 2001.5,1351.5 2003.5,1374.6 2005.4,1361.2 2007,1357.1 2008.5,1361.2 2009.8,1350.3 2011.2,1340 2012.5,1326 2013.8,1318.8 2015.3,1314.3 2016.9,1307.3 2018.5,1306.7 2020,1309.2 2021.3,1309.3 2022.7,1316.9 2024,1311.8 2025.2,1317.9 2026.5,1315 2027.8,1323.4 2029.2,1336.2 2030.8,1333.3 2032.3,1324.6 2033.8,1332 2035.4,1340 2036.8,1332.8 2038.1,1316.9 2039.4,1329.4 2040.8,1345.8 2042.1,1334.3 2043.3,1325.5 2044.6,1318.8 2046.2,1324.8 2047.7,1324.6 2049.2,1338.4 2050.8,1349.6 2052.2,1327.8 2053.5,1309.2 2054.8,1291.7 2056.2,1282.3 2057.3,1280.3 2058.5,1274.6 2059.8,1289.9 2061.2,1295.8 2062.5,1290.9 2063.8,1284.2 2065.4,1283.1 2066.9,1291.9 2068.8,1261.2 2070.2,1259.4 2071.5,1266.9 2073.1,1264.8 2074.6,1270.8 2076.1,1278.1 2077.7,1291.9 2079.1,1277.7 2080.4,1272.7 2081.8,1277.8 2083.1,1291.9 2084.6,1305 2086.2,1315 2087.7,1325.8 2089.2,1328.5 2090.6,1335.1 2091.9,1347.7 2093.8,1357.3 2095.8,1338.1 2097.1,1342.2 2098.3,1336.6 2099.6,1336.2 2101.5,1311.2 2103.1,1312.3 2104.6,1307.3 2105.9,1310.8 2107.2,1310.4 2108.5,1305.4 2109.2,1274.6 2110.8,1269 2112.3,1272.7 2113.7,1280.3 2115,1291.9 2116.9,1259.2 2118.4,1262.2 2120,1263.1 2121.3,1266.6 2122.7,1261.2 2124.6,1272.7 2126.5,1236.2 2127.7,1201.5 2129.1,1208 2130.4,1222.7 2131.8,1214.9 2133.1,1211.2 2134.2,1213.7 2135.4,1209.2 2136.8,1217.8 2138.1,1234.2 2140,1240 2141.9,1282.3 2143.2,1275.4 2144.6,1270.8 2146.1,1273.9 2147.7,1280.4 2149.2,1277.4 2150.8,1270.8 2152.2,1280.8 2153.5,1282.3 2154.8,1280 2156.2,1284.2 2157.7,1280.8 2159.2,1272.7 2160.8,1268.3 2162.3,1259.2 2163.7,1253.9 2165,1241.9 2166.3,1230.9 2167.7,1218.8 2168.8,1239.4 2170,1251.5 2171.3,1256.9 2172.7,1265 2174.1,1268 2175.4,1272.7 2176.6,1278.6 2177.7,1290 2179.1,1294.7 2180.4,1293.8 2181.8,1312.9 2183.1,1332.3 2184.6,1327.1 2186.2,1326.5 2187.5,1321.3 2188.7,1324.9 2190,1320.8 2191.9,1307.3 2193.2,1312.2 2194.5,1317.1 2195.8,1318.8 2197.2,1305.2 2198.5,1293.8 2200,1307.2 2201.5,1320.8 2202.8,1312.2 2204.1,1312.6 2205.4,1305.4 2206.9,1317 2208.5,1338.1 2209.8,1329.1 2211.2,1320.8 2212.5,1318.3 2213.7,1312.3 2215,1305.4 2216.3,1311 2217.7,1324.6 2219.2,1322.9 2220.8,1326.5 2222.3,1350.1 2223.8,1366.9 2225.2,1365.5 2226.5,1361.2 2227.8,1377.5 2229.2,1386.2 2230.3,1376.4 2231.5,1359.2 2232.8,1350 2234.2,1341.9 2235.5,1344.6 2236.8,1341.7 2238.1,1338.1 2240,1363.1 2241.9,1391.9 2243.2,1381.6 2244.6,1374.6 2246.1,1377.2 2247.7,1382.3 2249.2,1380 2250.8,1386.2 2252.1,1386.5 2253.3,1393.3 2254.6,1390 2256.2,1436.2 2257.5,1430.9 2258.7,1434.3 2260,1432.3 2261.2,1422.7 2262.3,1420.8 2263.6,1415.9 2264.9,1421 2266.2,1418.8 2267.5,1415.6 2268.7,1413 2270,1416.9 2271.5,1434.2 2273.1,1426.9 2274.6,1426.5 2275.9,1431.2 2277.2,1433.8 2278.5,1436.2" fill="none" stroke="#0000ff" stroke-width="4.0" stroke-linejoin="round" stroke-linecap="round" shape-rendering="crispEdges"/>
<polyline points="197.7,1491.9 199.2,1507.6 200.8,1528.5 202.2,1514.9 203.5,1509.2 204.8,1505.3 206.2,1503.5 207.3,1514.4 208.5,1532.3 209.8,1531.8 211.2,1540 212.5,1539 213.8,1540 215.4,1552.8 216.9,1557.3 218.8,1574.6 220.1,1569.3 221.4,1560.6 222.7,1549.6 224.1,1555.5 225.4,1566.9 226.9,1565.4 228.5,1563.1 230,1558 231.5,1557.3 233.1,1582.3 234.2,1605 235.4,1634.2 236.8,1627.4 238.1,1628.5 239.4,1622.7 240.8,1622.7 241.9,1646.2 243.1,1661.2 244.4,1667.3 245.8,1666.9 247.2,1662.3 248.5,1651.5 250,1679.5 251.5,1701.5 252.8,1699.1 254.1,1700.9 255.4,1703.5 256.9,1696.1 258.5,1686.2 259.9,1689.5 261.2,1688.1 263.1,1668.8 264.4,1682.6 265.6,1693.1 266.9,1699.6 268.8,1682.3 270.8,1676.5 272.3,1654.1 273.8,1640 275.1,1621.8 276.5,1601.5 277.9,1591.7 279.2,1578.5 280.4,1592 281.5,1605.4 282.9,1594.5 284.2,1590 285.5,1596.8 286.8,1600 288.1,1611.2 289.5,1604 290.8,1588.1 292.3,1603.3 293.8,1611.2 295.4,1595.3 296.9,1578.5 298.2,1573.6 299.6,1572.7 301,1585.4 302.3,1590 303.5,1601.3 304.6,1611.2 306.5,1659.2 308.2,1652.5 310,1638.1 311.3,1653.7 312.5,1662.5 313.8,1674.6 315.4,1662.2 316.9,1651.5 318.4,1661.1 320,1668.8 321.4,1657.6 322.7,1647.7 324,1639.2 325.2,1635.5 326.5,1632.3 327.9,1620 329.2,1601.5 330.8,1572.9 332.3,1553.5 333.6,1547 334.9,1550.9 336.2,1547.7 337.7,1539.8 339.2,1536.2 340.7,1537.8 342.3,1538.4 343.8,1540 345.4,1557.7 346.9,1578.5 348.2,1595 349.6,1601.5 350.9,1606.8 352.2,1617.3 353.5,1626.5 354.9,1597.6 356.2,1574.6 357.7,1579.8 359.2,1582.3 360.8,1583 362.3,1588.1 363.6,1579 365,1572.7 366.4,1580 367.7,1582.3 369.2,1587.3 370.8,1595.8 372.3,1608.9 373.8,1620.8 375.1,1618.1 376.5,1607.3 377.9,1621.6 379.2,1643.8 380.9,1642 382.5,1646.2 384.2,1651.5 385.5,1642.7 386.9,1628.5 388,1628.7 389.2,1626.5 390.7,1611.7 392.3,1600.5 393.8,1590 395.4,1602.2 396.9,1620.8 398.2,1631.9 399.6,1643.8 401,1641.2 402.3,1647.7 403.9,1659.3 405.4,1666.9 406.7,1679.8 407.9,1689.4 409.2,1693.8 410.8,1689.4 412.3,1680.4 413.6,1687.9 415,1686.2 416.9,1663.1 418.4,1671.7 420,1690 421.9,1715 423.2,1691.7 424.6,1672.7 426.1,1659.1 427.7,1636.2 428.5,1615 430,1628.4 431.5,1636.2 432.9,1629.5 434.2,1624.6 436.2,1611.2 437.7,1630 439.2,1640 440.5,1652.8 441.9,1663.1 443.2,1677.8 444.6,1686.2 446.1,1697.6 447.7,1713.1 449.2,1723.5 450.8,1740 452.1,1738.8 453.3,1735.1 454.6,1738.1 456.5,1709.2 457.9,1713.8 459.2,1720.8 461.2,1695.8 462.5,1714.8 463.8,1724.6 465.4,1719.1 466.9,1716.9 468.4,1729.3 470,1751.5 471.5,1778.5 473.1,1780.6 474.6,1791.9 476.1,1772.2 477.7,1759.2 479,1762.7 480.2,1759.2 481.5,1761.2 482.9,1764.9 484.2,1772.7 485.5,1760 486.9,1755.4 488.4,1764.1 490,1763.1 491.3,1757.2 492.5,1749.9 493.8,1747.7 495.1,1743.3 496.4,1743.3 497.7,1747.7 499.6,1776.5 501,1773.2 502.3,1776.5 503.5,1745.6 504.6,1711.2 505.9,1707 507.2,1705.3 508.5,1709.2 510,1755.4 511.6,1744.7 513.1,1734.2 514.7,1719.2 516.2,1709.2 517.5,1696.9 518.8,1674.6 520.1,1667 521.4,1667.2 522.7,1663.1 524,1663.9 525.4,1659.2 527,1667.9 528.5,1678.5 530,1691 531.5,1693.8 532.9,1680.1 534.2,1666.9 535.5,1666.3 536.8,1669.9 538.1,1672.7 540,1643.8 541.5,1650.7 543.1,1666.9 544.4,1671.2 545.6,1674.7 546.9,1682.3 548.2,1695.8 549.6,1701.5 551,1686.6 552.3,1665 553.8,1662.1 555.4,1659.2 556.7,1644.9 557.9,1637.5 559.2,1630.4 560.8,1636.5 562.3,1647.7 563.6,1664 565,1686.2 566.9,1709.2 568.5,1704.6 570,1705.4 571.4,1718.7 572.7,1724.6 574,1698 575.4,1678.5 577,1672.1 578.5,1674.6 579.8,1666.1 581,1649.7 582.3,1636.2 584.2,1607.3 585.5,1609.6 586.8,1601.2 588.1,1599.6 589.5,1621.9 590.8,1636.2 592.3,1631 593.8,1622.7 595.4,1625.6 596.9,1625.1 598.5,1622.7 600,1636.1 601.5,1649.6 602.8,1639.8 604.1,1635.2 605.4,1632.3 606.8,1619.7 608.1,1599.6 610,1638.1 611.5,1641.1 613.1,1636.2 614.7,1656.7 616.2,1668.8 617.5,1664.3 618.8,1663.1 620.1,1660.8 621.4,1658.4 622.7,1651.5 624,1654.2 625.2,1657.2 626.5,1655.4 627.8,1655 629.1,1655.7 630.4,1653.5 632.3,1693.8 634.2,1718.8 635.5,1720 636.8,1715.2 638.1,1716.9 639.5,1713.4 640.8,1701.5 642.3,1705.1 643.8,1699.6 645.8,1707.3 647.1,1690.9 648.3,1687.7 649.6,1670.8 650.9,1671.6 652.2,1664.8 653.5,1659.2 655.4,1674.6 657,1660.4 658.5,1655.4 659.8,1649.8 661,1632.4 662.3,1626.5 663.6,1619.7 664.9,1605.1 666.2,1591.9 667.7,1587.5 669.3,1588.6 670.8,1591.9 672.1,1609.9 673.3,1625.9 674.6,1641.9 675.9,1634.8 677.2,1627 678.5,1613.1 679.9,1598.7 681.2,1590 682.7,1594.6 684.2,1609.2 685.5,1620.2 686.9,1622.7 688.5,1629.4 690,1645.8 691.5,1633.2 693.1,1613.1 694.5,1597.7 695.8,1590 697.1,1592.5 698.3,1591.6 699.6,1588.1 700.9,1581.6 702.2,1568.1 703.5,1557.3 704.9,1542.8 706.2,1520.8 707.7,1519.7 709.2,1524.6 710.5,1507.1 711.9,1486.2 713.8,1451.5 715.3,1436.4 716.9,1424.6 718.5,1418.9 720,1405.4 721.4,1402.3 722.7,1393.8 724,1401.2 725.4,1409.2 727,1412.4 728.5,1415 729.8,1425 731,1439.8 732.3,1459.2 733.6,1458.9 734.9,1456.6 736.2,1455.4 738.1,1401.5 739.5,1399.4 740.8,1390 742.3,1374.7 743.8,1357.3 745.8,1380.4 747.1,1380 748.3,1385.4 749.6,1390 751,1402.3 752.3,1409.2 753.5,1421.9 754.6,1434.2 756.5,1409.2 757.9,1417.8 759.2,1436.2 760.8,1463.6 762.3,1484.2 763.6,1463.5 765,1436.2 766.4,1420.5 767.7,1413.1 769.4,1413.5 771,1411.9 772.7,1413.1 774,1420.8 775.4,1422.7 777,1420.8 778.5,1422.7 780,1438.3 781.5,1459.2 782.9,1452.4 784.2,1445.8 785.5,1464.9 786.9,1474.6 788.5,1464.8 790,1463.1 791.3,1463.1 792.5,1472 793.8,1474.6 795.3,1465 796.9,1447.7 798.2,1447.8 799.5,1447 800.8,1447.7 802.1,1439.7 803.5,1424.6 805.4,1459.2 807,1444.7 808.5,1424.6 810,1413.9 811.6,1415.6 813.1,1405.4 814.7,1396.6 816.2,1393.8 817.7,1378.5 819,1385.5 820.2,1399.8 821.5,1405.4 822.8,1398.9 824.1,1396.9 825.4,1388.1 826.7,1392.5 827.9,1407.2 829.2,1411.2 830.8,1399.3 832.3,1393.8 833.8,1375.9 835.4,1365 836.8,1361.1 838.1,1357.3 840,1320.8 841.5,1305.7 843.1,1293.8 844.5,1272.1 845.8,1249.6 847.1,1255.6 848.3,1255.6 849.6,1255.4 850.9,1263.3 852.2,1279.1 853.5,1293.8 855.4,1351.5 857,1365.4 858.5,1378.5 859.9,1355.3 861.2,1332.3 862.5,1311.4 863.8,1286.2 865.3,1276.4 866.9,1266.9 868.8,1305.4 870.1,1298 871.4,1296.5 872.7,1295.8 874,1292.5 875.4,1282.3 876.7,1282.2 877.9,1287.6 879.2,1286.2 880.8,1298.7 882.3,1301.5 884.2,1263.1 885.5,1268.2 886.8,1272.5 888.1,1274.6 890,1288.1 891.5,1278.6 893.1,1266.9 894.5,1284.3 895.8,1305.4 897.1,1311.4 898.5,1309.2 899.6,1318.5 900.8,1328.5 902.1,1326.8 903.5,1316.9 904.8,1314.3 906,1319.3 907.3,1315 909.2,1328.5 910.8,1312.1 912.3,1290 913.6,1284.4 915,1276.5 916.4,1255.8 917.7,1236.2 919.2,1235.5 920.8,1241.9 922.3,1240.8 923.8,1234.2 925.1,1240.5 926.5,1249.6 927.8,1250 929.1,1243.4 930.4,1245.8 932.3,1241.9 933.8,1233.9 935.4,1234.2 936.8,1240.3 938.1,1253.5 940,1265 941.9,1199.6 943.2,1213.3 944.6,1220.8 946.2,1224.3 947.7,1234.2 949.6,1245.8 951,1242.1 952.3,1230.4 953.5,1230.1 954.6,1232.3 956,1248.5 957.3,1263.1 958.6,1258.4 959.9,1257.9 961.2,1253.5 962.5,1248.8 963.7,1251.2 965,1251.5 966.3,1249.5 967.5,1235.5 968.8,1232.3 970.1,1226.1 971.5,1216.9 972.6,1213.3 973.8,1213.1 975.1,1218.8 976.5,1228.5 977.9,1234.3 979.2,1249.6 980.4,1261.2 981.8,1247.7 983.1,1243.8 984.7,1261.8 986.2,1270.8 988.1,1253.5 989.5,1271.2 990.8,1282.3 992.3,1273.8 993.8,1259.2 995.3,1272.9 996.9,1280.4 998.2,1297.4 999.6,1305.4 1001,1290.4 1002.3,1282.3 1003.8,1275.4 1005.4,1266.9 1007,1255.3 1008.5,1243.8 1009.9,1258 1011.2,1270.8 1012.5,1266.5 1013.8,1253.5 1015.1,1259.9 1016.4,1265.9 1017.7,1265 1019.2,1261.2 1020.8,1265 1022.7,1297.7 1024.6,1274.6 1026.2,1286.7 1027.7,1295.8 1029.1,1287 1030.4,1274.6 1032.3,1259.2 1033.8,1269.4 1035.4,1274.6 1036.7,1272.6 1037.9,1271.5 1039.2,1265 1040.6,1273.6 1041.9,1286.2 1043.2,1293.3 1044.6,1291.9 1045.8,1307.3 1046.9,1324.6 1048.2,1343.9 1049.6,1361.2 1051.5,1386.2 1053,1406.5 1054.6,1418.8 1055.9,1416 1057.3,1409.2 1058.7,1403.4 1060,1401.5 1061.5,1395 1063.1,1393.8 1064.4,1387 1065.6,1384.9 1066.9,1378.5 1068.5,1404.6 1070,1420.8 1071.3,1408.1 1072.5,1386.5 1073.8,1370.8 1075.4,1409.2 1077,1427.5 1078.5,1447.7 1080,1464.3 1081.5,1474.6 1082.8,1468.6 1084.2,1466.9 1086.2,1428.5 1087.7,1425.7 1089.2,1424.6 1090.8,1443.8 1092.3,1424.5 1093.8,1415 1095.3,1420.5 1096.9,1432.3 1098.2,1425 1099.6,1416.9 1100.9,1416 1102.3,1411.2 1103.8,1419 1105.4,1424.6 1107.3,1432.3 1108.7,1422.3 1110,1415 1111.5,1433.9 1113.1,1443.8 1115,1413.1 1116.3,1410.5 1117.7,1405.4 1118.8,1382.7 1120,1366.9 1121.3,1378 1122.7,1397.7 1124.1,1396.7 1125.4,1386.2 1126.6,1375.7 1127.7,1355.4 1129.2,1313.1 1130.5,1312.8 1131.8,1305.1 1133.1,1299.6 1134.7,1294.8 1136.2,1293.8 1137.7,1285.9 1139.2,1286.2 1140.6,1294.3 1141.9,1307.3 1143.8,1336.2 1145.3,1325.7 1146.9,1320.8 1148.2,1308.7 1149.6,1288.1 1150.9,1290.1 1152.2,1287 1153.5,1282.3 1154.8,1293.2 1156.2,1311.2 1157.7,1298 1159.2,1290 1160.8,1305.3 1162.3,1324.6 1163.7,1343.5 1165,1353.5 1166.3,1355.9 1167.7,1365 1169.2,1357.3 1170.8,1343.8 1172.7,1316.9 1174,1318.1 1175.2,1316.1 1176.5,1315 1177.7,1288.1 1179.1,1285.9 1180.4,1274.6 1182.3,1253.5 1183.8,1243.4 1185.4,1238.1 1186.8,1247.9 1188.1,1257.3 1189.4,1257.1 1190.6,1259.7 1191.9,1266.9 1193.8,1291.9 1195.8,1243.8 1197.1,1235.9 1198.3,1235.6 1199.6,1234.2 1200.9,1248.7 1202.3,1270.8 1203.8,1286.6 1205.4,1311.2 1207,1329.6 1208.5,1338.1 1209.8,1317.7 1211.2,1301.5 1212.5,1311.2 1213.8,1313.1 1215.3,1320.9 1216.9,1324.6 1218.8,1297.7 1220.2,1289.4 1221.5,1276.5 1223,1276.2 1224.6,1272.7 1226.2,1255.1 1227.7,1228.5 1229.2,1218.8 1230.8,1229.3 1232.3,1232.3 1233.8,1236.4 1235.4,1236.2 1236.8,1248.3 1238.1,1259.2 1240,1255.4 1241.5,1243.9 1243.1,1228.5 1244.4,1206.7 1245.8,1180.4 1247.1,1180.3 1248.3,1179.2 1249.6,1178.5 1251.5,1201.5 1253.5,1257.3 1254.8,1245.2 1256.2,1240 1257.5,1235.7 1258.7,1224.4 1260,1216.9 1261.2,1218.4 1262.3,1228.5 1263.7,1236.7 1265,1251.5 1266.3,1247.6 1267.5,1233.7 1268.8,1228.5 1270.2,1238.9 1271.5,1251.5 1273,1263 1274.6,1270.8 1276.5,1293.8 1278.2,1301.9 1279.8,1301.1 1281.5,1307.3 1282.8,1280.2 1284.2,1255.4 1285.5,1248.2 1286.8,1237.9 1288.1,1236.2 1289.4,1226.5 1290.8,1209.2 1291.9,1194.8 1293.1,1190 1294.4,1199.4 1295.8,1199.6 1297.1,1182.7 1298.3,1169.2 1299.6,1159.2 1300.9,1176.2 1302.3,1186.2 1303.8,1182.7 1305.4,1172.7 1307,1181.6 1308.5,1195.8 1309.8,1202.1 1311.2,1207.3 1312.5,1193.6 1313.8,1180.4 1315,1205.6 1316.2,1226.5 1317.5,1241.7 1318.8,1263.1 1320.1,1254.2 1321.4,1243.7 1322.7,1226.5 1324.1,1234.4 1325.4,1238.1 1326.6,1257.7 1327.7,1268.8 1329.1,1272.2 1330.4,1266.9 1332.3,1286.2 1333.8,1298.4 1335.4,1313.1 1336.8,1314.6 1338.1,1309.2 1339.4,1318.3 1340.8,1320.8 1342.3,1308.2 1343.8,1293.8 1345.3,1278.4 1346.9,1270.8 1348.8,1257.3 1350.2,1283.5 1351.5,1307.3 1352.8,1310.2 1354.1,1302.8 1355.4,1303.5 1357,1288.6 1358.5,1270.8 1359.8,1284.4 1361.2,1290 1362.5,1283.3 1363.8,1274.6 1365.3,1279.6 1366.9,1293.8 1368.5,1303.8 1370,1311.2 1371.5,1318.8 1373,1295.2 1374.6,1276.5 1376.2,1271.4 1377.7,1259.2 1379,1255.1 1380.2,1245.7 1381.5,1241.9 1382.8,1256.5 1384.2,1263.1 1385.6,1270.1 1386.9,1274.6 1388.5,1282.6 1390,1293.8 1391.5,1290.4 1393.1,1280.4 1394.4,1280.5 1395.8,1272.7 1397.2,1288.2 1398.5,1295.8 1399.7,1306.3 1400.8,1309.2 1402.2,1318.5 1403.5,1324.6 1404.8,1305.4 1406.2,1282.3 1407.7,1300.6 1409.2,1316.9 1410.8,1321 1412.3,1324.6 1413.7,1316 1415,1297.7 1416.3,1296.2 1417.5,1293.5 1418.8,1297.7 1420.2,1315.2 1421.5,1328.5 1423,1314 1424.6,1299.6 1425.9,1303.9 1427.2,1308.3 1428.5,1311.2 1430,1299 1431.5,1291.9 1432.8,1293.7 1434.2,1301.5 1435.5,1304.9 1436.8,1319.7 1438.1,1324.6 1439.2,1353.5 1440.6,1350.8 1441.9,1340 1443.2,1343.2 1444.5,1338.7 1445.8,1343.8 1447.7,1365 1449.6,1338.1 1450.9,1344.8 1452.2,1345.2 1453.5,1343.8 1455.4,1382.3 1457,1389.1 1458.5,1395.8 1459.8,1386 1461.2,1386.2 1462.5,1376.1 1463.8,1359.2 1465.3,1339.3 1466.9,1316.9 1468.5,1314.3 1470,1309.2 1471.3,1312.1 1472.7,1324.6 1474,1328.2 1475.2,1322.5 1476.5,1328.5 1477.8,1330.8 1479.1,1330.1 1480.4,1336.2 1481.8,1317.4 1483.1,1301.5 1484.7,1316 1486.2,1322.7 1488.1,1286.2 1490,1257.3 1491.5,1270.4 1493.1,1278.5 1494.4,1291.3 1495.8,1297.7 1497.2,1304.3 1498.5,1315 1500,1318.7 1501.5,1324.6 1503,1335.2 1504.6,1343.8 1505.9,1344.9 1507.3,1355.4 1508.6,1353.2 1509.9,1357.5 1511.2,1351.5 1513.1,1301.5 1514.7,1313.7 1516.2,1320.8 1517.5,1321.2 1518.7,1312.4 1520,1311.2 1521.3,1308.3 1522.7,1301.5 1524.1,1298.6 1525.4,1290 1527,1299.7 1528.5,1305.4 1530,1315.3 1531.5,1326.5 1532.8,1324.2 1534.2,1328.5 1536.2,1363.1 1537.7,1364 1539.2,1374.6 1540.6,1393.9 1541.9,1405.4 1543.2,1404.6 1544.5,1392.9 1545.8,1390 1547.1,1396.4 1548.3,1396.7 1549.6,1401.5 1550.9,1387.4 1552.3,1370.8 1553.8,1351.1 1555.4,1324.6 1557,1317.1 1558.5,1313.1 1559.8,1331.6 1561.2,1347.7 1562.5,1358.7 1563.8,1374.6 1565.3,1389.2 1566.9,1403.5 1568.5,1378.6 1570,1363.1 1571.3,1381.9 1572.7,1405.4 1574,1404.5 1575.2,1412.1 1576.5,1409.2 1577.8,1402.7 1579.2,1403.5 1580.3,1422.4 1581.5,1436.2 1582.8,1412.8 1584.2,1397.7 1585.6,1427.6 1586.9,1447.7 1588.1,1455.9 1589.2,1470.8 1590,1470.8 1591.5,1455.2 1593.1,1447.7 1594.4,1443.9 1595.8,1445.8 1597.2,1464.5 1598.5,1474.6 1600,1488.8 1601.5,1499.6 1603.5,1499.6 1604.8,1483.3 1606.2,1459.2 1607.7,1457.3 1609.2,1455.4 1610.8,1448.6 1612.3,1449.6 1613.7,1447.1 1615,1447.7 1616.3,1441.5 1617.7,1436.2 1619.2,1429.6 1620.8,1413.1 1622.3,1422.3 1623.8,1438.1 1625.2,1424.9 1626.5,1416.9 1627.8,1413.6 1629.2,1403.5 1630.8,1419.8 1632.3,1443.8 1633.8,1442.8 1635.4,1432.3 1636.8,1434.1 1638.1,1440 1639.4,1454.1 1640.8,1466.9 1641.9,1477.2 1643.1,1484.2 1644.4,1475.8 1645.8,1459.2 1647.7,1434.2 1649.2,1436.7 1650.8,1447.7 1652.2,1452.1 1653.5,1449.6 1654.8,1443.5 1656.2,1443.8 1657.7,1447 1659.2,1445.8 1660.8,1438.2 1662.3,1440 1663.8,1468.8 1665.3,1464.8 1666.9,1455.4 1668.8,1405.4 1670.2,1396.4 1671.5,1393.8 1672.7,1387.1 1673.8,1386.2 1675.4,1349.6 1677,1344 1678.5,1347.7 1679.8,1345.9 1681,1346 1682.3,1347.7 1683.8,1372.7 1685.4,1388.1 1686.8,1380.5 1688.1,1370.8 1689.4,1373.3 1690.8,1378.5 1692.3,1373.8 1693.8,1359.2 1695.3,1340.6 1696.9,1328.5 1698.2,1324.3 1699.5,1330.5 1700.8,1324.6 1702.2,1324.3 1703.5,1315 1704.8,1324.5 1706.2,1330.4 1707.3,1347.7 1708.5,1355.4 1709.8,1345.8 1711,1349.2 1712.3,1340 1713.7,1346.8 1715,1349.6 1716.3,1353.2 1717.7,1353.5 1719.2,1367.5 1720.8,1374.6 1722.7,1359.2 1724.1,1357.2 1725.4,1363.1 1726.6,1381.2 1727.7,1405.4 1729,1401.8 1730.2,1405.2 1731.5,1405.4 1732.8,1411.6 1734.2,1416.9 1735.6,1428.9 1736.9,1440 1738.5,1436.7 1740,1436.2 1741.5,1455.9 1743.1,1470.8 1744.4,1468.4 1745.8,1459.2 1747.7,1443.8 1749.6,1422.7 1751.5,1466.9 1753,1472.4 1754.6,1472.7 1755.9,1477.7 1757.3,1491.9 1758.7,1479.8 1760,1474.6 1761.5,1467.9 1763.1,1466.9 1765,1459.2 1766.3,1466.2 1767.7,1478.5 1769.2,1484 1770.8,1488.1 1772.3,1503.3 1773.8,1524.6 1775.2,1518.1 1776.5,1509.2 1778.5,1470.8 1780,1484.6 1781.5,1501.5 1782.8,1504 1784.2,1509.2 1785.6,1499.8 1786.9,1486.2 1788.1,1489.6 1789.2,1484.2 1790.6,1487.9 1791.9,1497.7 1793.8,1524.6 1795.8,1541.9 1797.7,1563.1 1799.2,1542.3 1800.8,1524.6 1802.2,1531.4 1803.5,1528.5 1804.8,1534.3 1806.2,1545.8 1807.3,1515.1 1808.5,1493.8 1809.8,1501.3 1811.2,1515 1812.5,1516.3 1813.7,1513.4 1815,1509.2 1816.9,1478.5 1818.5,1488.6 1820,1490 1821.3,1478.4 1822.7,1466.9 1824.6,1432.3 1826.5,1405.4 1827.8,1399.5 1829.1,1400.9 1830.4,1401.5 1831.8,1386.4 1833.1,1366.9 1834.2,1332.3 1835.6,1325.5 1836.9,1320.8 1838.5,1326.8 1840,1340 1841.9,1370.8 1843.2,1350.3 1844.6,1332.3 1845.8,1324.2 1846.9,1316.9 1848.2,1331.8 1849.6,1349.6 1850.9,1336.6 1852.3,1324.6 1853.8,1319.1 1855.4,1320.8 1857.3,1299.6 1859.2,1332.3 1860.8,1344.9 1862.3,1366.9 1863.7,1379.4 1865,1386.2 1866.9,1413.1 1868.5,1430.8 1870,1443.8 1871.5,1478.5 1872.7,1493 1873.8,1509.2 1875.4,1522.7 1876.6,1506.3 1877.7,1497.7 1879.1,1497.6 1880.4,1501.5 1881.8,1496.3 1883.1,1490 1884.2,1502.6 1885.4,1507.3 1886.8,1514.8 1888.1,1522.7 1889.4,1523.6 1890.8,1515 1892.3,1523 1893.8,1530.4 1895.3,1516.6 1896.9,1509.2 1898.2,1506.5 1899.6,1501.5 1900.9,1494.9 1902.3,1486.2 1903.4,1481.4 1904.6,1474.6 1905.9,1468.2 1907.3,1457.3 1908.7,1462.1 1910,1476.5 1911.5,1476.9 1913.1,1478.5 1914.7,1488.2 1916.2,1491.9 1917.5,1480.6 1918.8,1476.5 1920.8,1516.9 1922.7,1547.7 1924.6,1578.5 1926.2,1566.2 1927.7,1563.1 1929.1,1554.1 1930.4,1551.5 1931.8,1559 1933.1,1570.8 1934.7,1554.8 1936.2,1540 1937.7,1566 1939.2,1595.8 1940,1543.8 1941.9,1597.7 1943.2,1600.9 1944.6,1601.5 1946.2,1591.5 1947.7,1588.1 1949.2,1559.6 1950.8,1534.2 1952.1,1534.7 1953.3,1532.1 1954.6,1530.4 1955.9,1528.2 1957.3,1516.9 1958.7,1517.4 1960,1509.2 1961.5,1518.3 1963.1,1532.3 1964.7,1523.9 1966.2,1518.8 1967.5,1529.4 1968.7,1539.8 1970,1549.6 1971.3,1529.1 1972.7,1511.2 1974.4,1514.2 1976,1506.8 1977.7,1509.2 1979.1,1477.2 1980.4,1445.8 1981.7,1441.3 1982.9,1448.3 1984.2,1443.8 1985.6,1466.9 1986.9,1488.1 1988.5,1490.1 1990,1482.3 1991.3,1478.1 1992.5,1483.1 1993.8,1480.4 1995.3,1464.1 1996.9,1445.8 1998.2,1440.6 1999.5,1447.7 2000.8,1443.8 2002.2,1453.3 2003.5,1455.4 2004.8,1451.8 2006,1461.1 2007.3,1457.3 2008.7,1469.7 2010,1476.5 2011.3,1487.2 2012.5,1496.2 2013.8,1505.4 2015.3,1494.4 2016.9,1488.1 2018.5,1488.5 2020,1497.7 2021.3,1507.1 2022.7,1516.9 2024,1514.8 2025.2,1502.5 2026.5,1499.6 2027.8,1517.9 2029.1,1534.6 2030.4,1555.4 2032.3,1540 2033.8,1554.4 2035.4,1565 2036.8,1548.4 2038.1,1522.7 2039.4,1531.7 2040.6,1530.8 2041.9,1538.1 2043.2,1532.5 2044.6,1528.5 2045.9,1524.8 2047.2,1531.3 2048.5,1532.3 2050,1551.2 2051.5,1563.1 2053.1,1556.9 2054.6,1543.8 2055.9,1552.4 2057.2,1568.8 2058.5,1582.3 2059.8,1565.6 2061.2,1557.3 2062.5,1564.2 2063.8,1572.7 2065.4,1584.5 2066.9,1588.1 2068.4,1567.6 2070,1551.5 2071.3,1575.2 2072.7,1591.9 2074.1,1598.4 2075.4,1595.8 2076.9,1573 2078.5,1543.8 2080,1557.2 2081.5,1576.5 2082.8,1569.1 2084.1,1557.7 2085.4,1541.9 2086.8,1557.5 2088.1,1563.1 2089.4,1562.1 2090.8,1570.8 2091.9,1523.5 2093.1,1486.2 2095,1481.5 2096.9,1518.8 2098.2,1519.6 2099.6,1524.6 2101.5,1572.7 2103.1,1563.3 2104.6,1553.5 2105.9,1552.7 2107.2,1549.4 2108.5,1553.5 2109.8,1546.3 2111.2,1536.2 2113.1,1547.7 2114.6,1536.9 2116.2,1522.7 2117.5,1536.5 2118.8,1547.7 2120.2,1540.1 2121.5,1532.3 2123.1,1535.7 2124.6,1538.1 2126.1,1549.6 2127.7,1557.3 2129.1,1536.6 2130.4,1524.6 2131.8,1515.3 2133.1,1507.3 2134.6,1517.1 2136.2,1534.2 2137.7,1515.8 2139.2,1505.4 2140.6,1523.4 2141.9,1536.2 2143.2,1526.7 2144.6,1520.8 2146.1,1529.7 2147.7,1541.9 2149.6,1497.7 2150.9,1508.9 2152.3,1524.6 2153.9,1524.5 2155.4,1522.7 2157.3,1582.3 2158.7,1588.1 2160,1601.5 2161.6,1612.6 2163.1,1620.8 2164.6,1632.9 2166.2,1653.5 2167.5,1659 2168.8,1655.4 2170.8,1636.2 2172.1,1627.6 2173.3,1628.6 2174.6,1620.8 2176.1,1604 2177.7,1586.2 2179.1,1577.7 2180.4,1570.8 2182.3,1547.7 2184.2,1530.4 2185.6,1533.2 2186.9,1540 2188.2,1532.8 2189.5,1531.1 2190.8,1522.7 2192.3,1546 2193.8,1568.8 2195.4,1570.2 2196.9,1570.8 2198.5,1524.6 2200,1541.3 2201.5,1563.1 2203.1,1552.8 2204.6,1540 2205.9,1550.2 2207.3,1566.9 2208.7,1574.4 2210,1582.3 2211.6,1599.2 2213.1,1613.1 2214.6,1602.9 2216.2,1591.9 2217.5,1579.3 2218.8,1565 2220.2,1565.7 2221.5,1565 2222.7,1580.2 2223.8,1601.5 2225.2,1599.4 2226.5,1588.1 2227.8,1598.6 2229.2,1605.4 2230.8,1607.7 2232.3,1605.4 2234.2,1636.2 2235.5,1638.2 2236.8,1630.6 2238.1,1628.5 2239.4,1603.7 2240.8,1582.3 2242.3,1598.6 2243.8,1618.8 2245.4,1611.2 2246.9,1607.3 2248.2,1615.9 2249.6,1628.5 2250.9,1616.1 2252.3,1607.3 2253.9,1610.1 2255.4,1618.8 2256.9,1609 2258.5,1599.6 2259.8,1605.2 2261.2,1615 2262.5,1611.1 2263.7,1611.5 2265,1607.3 2266.3,1613.2 2267.7,1622.7 2268.8,1633.1 2270,1636.2 2271.5,1645.8 2272.7,1631.5 2273.8,1611.2 2275.4,1590 2276.9,1587.3 2278.5,1588.1" fill="none" stroke="#ff0000" stroke-width="4.0" stroke-linejoin="round" stroke-linecap="round" shape-rendering="crispEdges"/>
</g>
<text transform="translate(153,1916) scale(1.015,1)" font-size="48.8">0:00</text><text transform="translate(324,1916) scale(1.015,1)" font-size="48.8">2:00</text><text transform="translate(498.5,1916) scale(1.015,1)" font-size="48.8">4:00</text><text transform="translate(671.8,1916) scale(1.015,1)" font-size="48.8">6:00</text><text transform="translate(845.9,1916) scale(1.015,1)" font-size="48.8">8:00</text><text transform="translate(1006.2,1916) scale(1.015,1)" font-size="48.8">10:00</text><text transform="translate(1180.1,1916) scale(1.015,1)" font-size="48.8">12:00</text><text transform="translate(1354,1916) scale(1.015,1)" font-size="48.8">14:00</text><text transform="translate(1527.9,1916) scale(1.015,1)" font-size="48.8">16:00</text><text transform="translate(1701.8,1916) scale(1.015,1)" font-size="48.8">18:00</text><text transform="translate(1876.7,1916) scale(1.015,1)" font-size="48.8">20:00</text><text transform="translate(2050.6,1916) scale(1.015,1)" font-size="48.8">22:00</text><text transform="translate(2222.2,1916) scale(1.015,1)" font-size="48.8">24:00</text>
<text transform="translate(138.8,1136.4) scale(0.9545,1)" font-size="48.8">16</text><text transform="translate(139,1227.1) scale(0.9166,1)" font-size="48.8">14</text><text transform="translate(138.7,1320.6) scale(0.9828,1)" font-size="48.8">12</text><text transform="translate(138.8,1414) scale(0.9636,1)" font-size="48.8">10</text><text transform="translate(158.2,1507.5) scale(1.0105,1)" font-size="48.8">8</text><text transform="translate(158,1601) scale(1.0024,1)" font-size="48.8">6</text><text transform="translate(159.2,1694.4) scale(0.9213,1)" font-size="48.8">4</text><text transform="translate(157.8,1787.8) scale(1.0683,1)" font-size="48.8">2</text><text transform="translate(158.2,1874) scale(1.0105,1)" font-size="48.8">0</text>
<text transform="translate(1173.8,1975.3) scale(1.0056,1)" font-size="59.3">Time</text>
<text transform="translate(116.2,1845.3) rotate(-90) scale(0.9655,1)" font-size="61">The wind-speed change (m/s)</text>
<rect x="1310.3" y="95.8" width="545.1" height="81" fill="#fff" stroke="#333" stroke-width="2"/>
<line x1="1347.5" y1="135.8" x2="1426.5" y2="135.8" stroke="#0000ff" stroke-width="3.2" stroke-linecap="round"/><line x1="1602" y1="135.8" x2="1680.5" y2="135.8" stroke="#ff0000" stroke-width="3.2" stroke-linecap="round"/>
<text transform="translate(1443.3,151.9) scale(0.9304,1)" font-size="51.5">Area1</text><text transform="translate(1697.2,151.9) scale(0.9676,1)" font-size="51.5">Area2</text>
<rect x="1648.8" y="1710" width="536.8" height="75.7" fill="#fff" stroke="#333" stroke-width="2"/>
<line x1="1685.5" y1="1747.8" x2="1761.2" y2="1747.8" stroke="#0000ff" stroke-width="3.8" stroke-linecap="round"/><line x1="1933.5" y1="1747.8" x2="2011.5" y2="1747.8" stroke="#ff0000" stroke-width="3.8" stroke-linecap="round"/>
<text transform="translate(1778.9,1761.9) scale(0.9641,1)" font-size="49">Area1</text><text transform="translate(2029.8,1761.9) scale(1.0007,1)" font-size="49">Area2</text>
<text transform="translate(1157,1066.2) scale(0.9599,1)" font-size="86">(<tspan font-weight="bold">a</tspan>)</text>
<text transform="translate(1152.9,2078.4) scale(1.0026,1)" font-size="86">(<tspan font-weight="bold">b</tspan>)</text>
</svg>
</body></html>
